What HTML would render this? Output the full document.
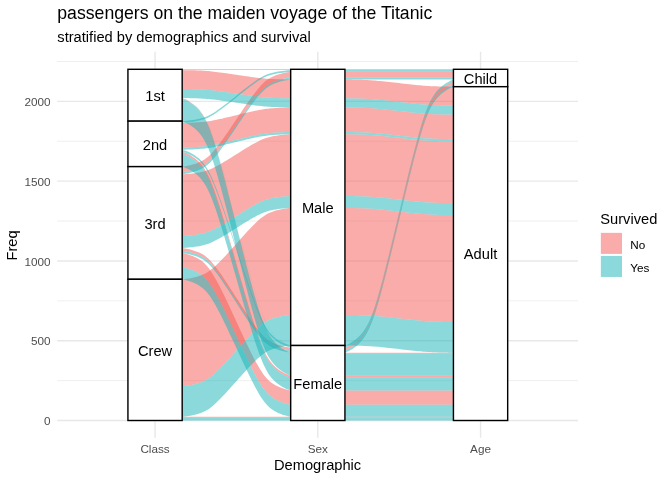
<!DOCTYPE html>
<html><head><meta charset="utf-8"><title>Titanic alluvial</title><style>html,body{margin:0;padding:0;background:#fff}body{width:672px;height:480px;overflow:hidden;font-family:"Liberation Sans",sans-serif}</style></head><body>
<svg width="672" height="480" viewBox="0 0 672 480" style="display:block;will-change:transform;font-family:'Liberation Sans',sans-serif">
<rect width="672" height="480" fill="#fff"/>
<line x1="57.20" x2="578.00" y1="380.61" y2="380.61" stroke="#E8E8E8" stroke-width="0.71"/>
<line x1="57.20" x2="578.00" y1="300.83" y2="300.83" stroke="#E8E8E8" stroke-width="0.71"/>
<line x1="57.20" x2="578.00" y1="221.04" y2="221.04" stroke="#E8E8E8" stroke-width="0.71"/>
<line x1="57.20" x2="578.00" y1="141.26" y2="141.26" stroke="#E8E8E8" stroke-width="0.71"/>
<line x1="57.20" x2="578.00" y1="61.48" y2="61.48" stroke="#E8E8E8" stroke-width="0.71"/>
<line x1="57.20" x2="578.00" y1="420.50" y2="420.50" stroke="#E8E8E8" stroke-width="1.42"/>
<line x1="57.20" x2="578.00" y1="340.72" y2="340.72" stroke="#E8E8E8" stroke-width="1.42"/>
<line x1="57.20" x2="578.00" y1="260.94" y2="260.94" stroke="#E8E8E8" stroke-width="1.42"/>
<line x1="57.20" x2="578.00" y1="181.15" y2="181.15" stroke="#E8E8E8" stroke-width="1.42"/>
<line x1="57.20" x2="578.00" y1="101.37" y2="101.37" stroke="#E8E8E8" stroke-width="1.42"/>
<line x1="155.05" x2="155.05" y1="51.80" y2="437.80" stroke="#E8E8E8" stroke-width="1.42"/>
<line x1="317.80" x2="317.80" y1="51.80" y2="437.80" stroke="#E8E8E8" stroke-width="1.42"/>
<line x1="480.55" x2="480.55" y1="51.80" y2="437.80" stroke="#E8E8E8" stroke-width="1.42"/>
<g fill-opacity="0.5">
<path d="M182.18,166.63L182.20,166.63L182.39,166.61L182.85,166.55L183.66,166.43L184.87,166.24L186.43,165.96L188.30,165.59L190.37,165.13L192.56,164.57L194.78,163.91L196.96,163.17L199.07,162.33L201.09,161.39L203.02,160.35L204.87,159.18L206.67,157.87L208.43,156.41L210.20,154.75L211.98,152.90L213.82,150.84L215.72,148.56L217.69,146.06L219.75,143.34L221.91,140.40L224.15,137.24L226.49,133.90L228.90,130.39L231.37,126.75L233.89,123.02L236.43,119.24L238.96,115.46L241.48,111.73L243.95,108.09L246.36,104.59L248.70,101.24L250.94,98.09L253.10,95.15L255.16,92.43L257.13,89.93L259.03,87.65L260.87,85.58L262.65,83.73L264.42,82.08L266.18,80.61L267.98,79.30L269.83,78.14L271.76,77.09L273.78,76.16L275.89,75.32L278.07,74.57L280.29,73.92L282.48,73.36L284.55,72.89L286.42,72.52L287.98,72.24L289.19,72.05L290.00,71.94L290.46,71.88L290.65,71.86L290.68,71.85L290.68,77.44L290.65,77.44L290.46,77.46L290.00,77.52L289.19,77.64L287.98,77.83L286.42,78.11L284.55,78.48L282.48,78.94L280.29,79.51L278.07,80.16L275.89,80.90L273.78,81.74L271.76,82.68L269.83,83.72L267.98,84.89L266.18,86.20L264.42,87.67L262.65,89.32L260.87,91.17L259.03,93.23L257.13,95.51L255.16,98.01L253.10,100.73L250.94,103.68L248.70,106.83L246.36,110.17L243.95,113.68L241.48,117.32L238.96,121.05L236.43,124.83L233.89,128.61L231.37,132.34L228.90,135.98L226.49,139.49L224.15,142.83L221.91,145.98L219.75,148.92L217.69,151.64L215.72,154.14L213.82,156.42L211.98,158.49L210.20,160.34L208.43,161.99L206.67,163.46L204.87,164.77L203.02,165.93L201.09,166.98L199.07,167.91L196.96,168.75L194.78,169.50L192.56,170.15L190.37,170.71L188.30,171.18L186.43,171.55L184.87,171.83L183.66,172.02L182.85,172.13L182.39,172.19L182.20,172.22L182.18,172.22Z" fill="#F35953"/>
<path d="M344.92,71.85L344.95,71.85L345.14,71.85L345.60,71.85L346.41,71.85L347.62,71.85L349.18,71.85L351.05,71.85L353.12,71.85L355.31,71.85L357.53,71.85L359.71,71.85L361.82,71.85L363.84,71.85L365.77,71.85L367.62,71.85L369.42,71.85L371.18,71.85L372.95,71.85L374.73,71.85L376.57,71.85L378.47,71.85L380.44,71.85L382.50,71.85L384.66,71.85L386.90,71.85L389.24,71.85L391.65,71.85L394.12,71.85L396.64,71.85L399.18,71.85L401.71,71.85L404.23,71.85L406.70,71.85L409.11,71.85L411.45,71.85L413.69,71.85L415.85,71.85L417.91,71.85L419.88,71.85L421.78,71.85L423.62,71.85L425.40,71.85L427.17,71.85L428.93,71.85L430.73,71.85L432.58,71.85L434.51,71.85L436.53,71.85L438.64,71.85L440.82,71.85L443.04,71.85L445.23,71.85L447.30,71.85L449.17,71.85L450.73,71.85L451.94,71.85L452.75,71.85L453.21,71.85L453.40,71.85L453.43,71.85L453.43,77.44L453.40,77.44L453.21,77.44L452.75,77.44L451.94,77.44L450.73,77.44L449.17,77.44L447.30,77.44L445.23,77.44L443.04,77.44L440.82,77.44L438.64,77.44L436.53,77.44L434.51,77.44L432.58,77.44L430.73,77.44L428.93,77.44L427.17,77.44L425.40,77.44L423.62,77.44L421.78,77.44L419.88,77.44L417.91,77.44L415.85,77.44L413.69,77.44L411.45,77.44L409.11,77.44L406.70,77.44L404.23,77.44L401.71,77.44L399.18,77.44L396.64,77.44L394.12,77.44L391.65,77.44L389.24,77.44L386.90,77.44L384.66,77.44L382.50,77.44L380.44,77.44L378.47,77.44L376.57,77.44L374.73,77.44L372.95,77.44L371.18,77.44L369.42,77.44L367.62,77.44L365.77,77.44L363.84,77.44L361.82,77.44L359.71,77.44L357.53,77.44L355.31,77.44L353.12,77.44L351.05,77.44L349.18,77.44L347.62,77.44L346.41,77.44L345.60,77.44L345.14,77.44L344.95,77.44L344.92,77.44Z" fill="#F35953"/>
<path d="M182.18,248.01L182.20,248.01L182.39,248.04L182.85,248.10L183.66,248.22L184.87,248.42L186.43,248.72L188.30,249.11L190.37,249.60L192.56,250.19L194.78,250.88L196.96,251.66L199.07,252.54L201.09,253.52L203.02,254.62L204.87,255.85L206.67,257.23L208.43,258.77L210.20,260.51L211.98,262.46L213.82,264.63L215.72,267.03L217.69,269.66L219.75,272.52L221.91,275.62L224.15,278.94L226.49,282.45L228.90,286.14L231.37,289.97L233.89,293.90L236.43,297.88L238.96,301.85L241.48,305.78L243.95,309.61L246.36,313.30L248.70,316.81L250.94,320.13L253.10,323.23L255.16,326.09L257.13,328.72L259.03,331.12L260.87,333.29L262.65,335.24L264.42,336.98L266.18,338.52L267.98,339.90L269.83,341.13L271.76,342.23L273.78,343.21L275.89,344.09L278.07,344.88L280.29,345.56L282.48,346.15L284.55,346.64L286.42,347.03L287.98,347.33L289.19,347.53L290.00,347.65L290.46,347.71L290.65,347.74L290.68,347.74L290.68,350.45L290.65,350.45L290.46,350.43L290.00,350.36L289.19,350.24L287.98,350.04L286.42,349.75L284.55,349.36L282.48,348.87L280.29,348.28L278.07,347.59L275.89,346.80L273.78,345.92L271.76,344.94L269.83,343.84L267.98,342.61L266.18,341.23L264.42,339.69L262.65,337.95L260.87,336.00L259.03,333.83L257.13,331.43L255.16,328.80L253.10,325.94L250.94,322.84L248.70,319.53L246.36,316.01L243.95,312.32L241.48,308.49L238.96,304.56L236.43,300.59L233.89,296.61L231.37,292.69L228.90,288.86L226.49,285.17L224.15,281.65L221.91,278.33L219.75,275.24L217.69,272.37L215.72,269.74L213.82,267.35L211.98,265.17L210.20,263.22L208.43,261.49L206.67,259.94L204.87,258.56L203.02,257.34L201.09,256.24L199.07,255.25L196.96,254.37L194.78,253.59L192.56,252.90L190.37,252.31L188.30,251.82L186.43,251.43L184.87,251.14L183.66,250.93L182.85,250.81L182.39,250.75L182.20,250.73L182.18,250.72Z" fill="#F35953"/>
<path d="M344.92,347.74L344.95,347.73L345.14,347.67L345.60,347.50L346.41,347.18L347.62,346.64L349.18,345.86L351.05,344.82L353.12,343.51L355.31,341.93L357.53,340.10L359.71,338.01L361.82,335.66L363.84,333.03L365.77,330.10L367.62,326.83L369.42,323.15L371.18,319.03L372.95,314.40L374.73,309.20L376.57,303.41L378.47,297.01L380.44,290.00L382.50,282.36L384.66,274.10L386.90,265.26L389.24,255.88L391.65,246.03L394.12,235.82L396.64,225.35L399.18,214.74L401.71,204.14L404.23,193.67L406.70,183.45L409.11,173.61L411.45,164.23L413.69,155.38L415.85,147.12L417.91,139.49L419.88,132.47L421.78,126.08L423.62,120.28L425.40,115.08L427.17,110.45L428.93,106.33L430.73,102.66L432.58,99.38L434.51,96.45L436.53,93.82L438.64,91.47L440.82,89.38L443.04,87.55L445.23,85.98L447.30,84.66L449.17,83.62L450.73,82.84L451.94,82.31L452.75,81.98L453.21,81.81L453.40,81.75L453.43,81.75L453.43,84.46L453.40,84.47L453.21,84.53L452.75,84.69L451.94,85.02L450.73,85.56L449.17,86.34L447.30,87.38L445.23,88.69L443.04,90.26L440.82,92.10L438.64,94.19L436.53,96.54L434.51,99.16L432.58,102.10L430.73,105.37L428.93,109.04L427.17,113.16L425.40,117.80L423.62,122.99L421.78,128.79L419.88,135.19L417.91,142.20L415.85,149.84L413.69,158.09L411.45,166.94L409.11,176.32L406.70,186.17L404.23,196.38L401.71,206.85L399.18,217.45L396.64,228.06L394.12,238.53L391.65,248.74L389.24,258.59L386.90,267.97L384.66,276.82L382.50,285.07L380.44,292.71L378.47,299.72L376.57,306.12L374.73,311.91L372.95,317.11L371.18,321.75L369.42,325.87L367.62,329.54L365.77,332.81L363.84,335.75L361.82,338.37L359.71,340.72L357.53,342.81L355.31,344.65L353.12,346.22L351.05,347.53L349.18,348.57L347.62,349.35L346.41,349.89L345.60,350.22L345.14,350.38L344.95,350.44L344.92,350.45Z" fill="#F35953"/>
<path d="M182.18,70.10L182.20,70.10L182.39,70.10L182.85,70.11L183.66,70.12L184.87,70.14L186.43,70.16L188.30,70.20L190.37,70.25L192.56,70.30L194.78,70.37L196.96,70.44L199.07,70.52L201.09,70.62L203.02,70.72L204.87,70.84L206.67,70.97L208.43,71.11L210.20,71.28L211.98,71.46L213.82,71.67L215.72,71.89L217.69,72.14L219.75,72.41L221.91,72.70L224.15,73.02L226.49,73.35L228.90,73.70L231.37,74.06L233.89,74.43L236.43,74.80L238.96,75.18L241.48,75.55L243.95,75.91L246.36,76.26L248.70,76.59L250.94,76.91L253.10,77.20L255.16,77.47L257.13,77.72L259.03,77.94L260.87,78.15L262.65,78.33L264.42,78.50L266.18,78.64L267.98,78.77L269.83,78.89L271.76,78.99L273.78,79.08L275.89,79.17L278.07,79.24L280.29,79.31L282.48,79.36L284.55,79.41L286.42,79.45L287.98,79.47L289.19,79.49L290.00,79.50L290.46,79.51L290.65,79.51L290.68,79.51L290.68,98.34L290.65,98.34L290.46,98.34L290.00,98.33L289.19,98.32L287.98,98.30L286.42,98.27L284.55,98.24L282.48,98.19L280.29,98.13L278.07,98.07L275.89,98.00L273.78,97.91L271.76,97.82L269.83,97.72L267.98,97.60L266.18,97.47L264.42,97.32L262.65,97.16L260.87,96.98L259.03,96.77L257.13,96.54L255.16,96.30L253.10,96.03L250.94,95.73L248.70,95.42L246.36,95.09L243.95,94.74L241.48,94.38L238.96,94.01L236.43,93.63L233.89,93.26L231.37,92.89L228.90,92.53L226.49,92.18L224.15,91.85L221.91,91.53L219.75,91.24L217.69,90.97L215.72,90.72L213.82,90.50L211.98,90.29L210.20,90.11L208.43,89.94L206.67,89.80L204.87,89.67L203.02,89.55L201.09,89.45L199.07,89.35L196.96,89.27L194.78,89.20L192.56,89.13L190.37,89.08L188.30,89.03L186.43,88.99L184.87,88.96L183.66,88.95L182.85,88.93L182.39,88.93L182.20,88.93L182.18,88.93Z" fill="#F35953"/>
<path d="M344.92,79.51L344.95,79.51L345.14,79.51L345.60,79.52L346.41,79.53L347.62,79.54L349.18,79.56L351.05,79.59L353.12,79.63L355.31,79.67L357.53,79.72L359.71,79.77L361.82,79.84L363.84,79.91L365.77,79.99L367.62,80.08L369.42,80.18L371.18,80.29L372.95,80.41L374.73,80.55L376.57,80.71L378.47,80.88L380.44,81.07L382.50,81.28L384.66,81.50L386.90,81.74L389.24,81.99L391.65,82.26L394.12,82.53L396.64,82.82L399.18,83.10L401.71,83.39L404.23,83.67L406.70,83.95L409.11,84.21L411.45,84.47L413.69,84.70L415.85,84.93L417.91,85.13L419.88,85.32L421.78,85.50L423.62,85.65L425.40,85.79L427.17,85.92L428.93,86.03L430.73,86.13L432.58,86.22L434.51,86.30L436.53,86.37L438.64,86.43L440.82,86.49L443.04,86.54L445.23,86.58L447.30,86.61L449.17,86.64L450.73,86.66L451.94,86.68L452.75,86.69L453.21,86.69L453.40,86.69L453.43,86.69L453.43,105.52L453.40,105.52L453.21,105.52L452.75,105.51L451.94,105.51L450.73,105.49L449.17,105.47L447.30,105.44L445.23,105.41L443.04,105.36L440.82,105.31L438.64,105.26L436.53,105.19L434.51,105.12L432.58,105.04L430.73,104.96L428.93,104.86L427.17,104.75L425.40,104.62L423.62,104.48L421.78,104.32L419.88,104.15L417.91,103.96L415.85,103.76L413.69,103.53L411.45,103.29L409.11,103.04L406.70,102.78L404.23,102.50L401.71,102.22L399.18,101.93L396.64,101.64L394.12,101.36L391.65,101.09L389.24,100.82L386.90,100.57L384.66,100.33L382.50,100.11L380.44,99.90L378.47,99.71L376.57,99.54L374.73,99.38L372.95,99.24L371.18,99.12L369.42,99.00L367.62,98.90L365.77,98.82L363.84,98.74L361.82,98.67L359.71,98.60L357.53,98.55L355.31,98.50L353.12,98.45L351.05,98.42L349.18,98.39L347.62,98.37L346.41,98.36L345.60,98.35L345.14,98.34L344.95,98.34L344.92,98.34Z" fill="#F35953"/>
<path d="M182.18,122.91L182.20,122.91L182.39,122.91L182.85,122.90L183.66,122.88L184.87,122.85L186.43,122.80L188.30,122.74L190.37,122.67L192.56,122.58L194.78,122.47L196.96,122.35L199.07,122.21L201.09,122.06L203.02,121.89L204.87,121.70L206.67,121.48L208.43,121.24L210.20,120.97L211.98,120.67L213.82,120.33L215.72,119.96L217.69,119.55L219.75,119.11L221.91,118.63L224.15,118.11L226.49,117.57L228.90,116.99L231.37,116.40L233.89,115.79L236.43,115.17L238.96,114.56L241.48,113.95L243.95,113.35L246.36,112.78L248.70,112.23L250.94,111.72L253.10,111.24L255.16,110.80L257.13,110.39L259.03,110.02L260.87,109.68L262.65,109.38L264.42,109.11L266.18,108.87L267.98,108.65L269.83,108.46L271.76,108.29L273.78,108.14L275.89,108.00L278.07,107.88L280.29,107.77L282.48,107.68L284.55,107.61L286.42,107.54L287.98,107.50L289.19,107.47L290.00,107.45L290.46,107.44L290.65,107.44L290.68,107.44L290.68,132.01L290.65,132.01L290.46,132.01L290.00,132.02L289.19,132.04L287.98,132.07L286.42,132.12L284.55,132.18L282.48,132.25L280.29,132.35L278.07,132.45L275.89,132.57L273.78,132.71L271.76,132.86L269.83,133.03L267.98,133.23L266.18,133.44L264.42,133.68L262.65,133.95L260.87,134.25L259.03,134.59L257.13,134.96L255.16,135.37L253.10,135.81L250.94,136.29L248.70,136.81L246.36,137.35L243.95,137.93L241.48,138.52L238.96,139.13L236.43,139.75L233.89,140.36L231.37,140.97L228.90,141.57L226.49,142.14L224.15,142.69L221.91,143.20L219.75,143.68L217.69,144.13L215.72,144.53L213.82,144.91L211.98,145.24L210.20,145.55L208.43,145.82L206.67,146.06L204.87,146.27L203.02,146.46L201.09,146.63L199.07,146.78L196.96,146.92L194.78,147.04L192.56,147.15L190.37,147.24L188.30,147.32L186.43,147.38L184.87,147.42L183.66,147.45L182.85,147.47L182.39,147.48L182.20,147.49L182.18,147.49Z" fill="#F35953"/>
<path d="M344.92,107.44L344.95,107.44L345.14,107.44L345.60,107.44L346.41,107.45L347.62,107.47L349.18,107.49L351.05,107.51L353.12,107.55L355.31,107.59L357.53,107.64L359.71,107.70L361.82,107.76L363.84,107.83L365.77,107.91L367.62,108.00L369.42,108.10L371.18,108.21L372.95,108.34L374.73,108.48L376.57,108.63L378.47,108.80L380.44,108.99L382.50,109.20L384.66,109.42L386.90,109.66L389.24,109.92L391.65,110.18L394.12,110.46L396.64,110.74L399.18,111.03L401.71,111.31L404.23,111.59L406.70,111.87L409.11,112.14L411.45,112.39L413.69,112.63L415.85,112.85L417.91,113.06L419.88,113.25L421.78,113.42L423.62,113.58L425.40,113.72L427.17,113.84L428.93,113.95L430.73,114.05L432.58,114.14L434.51,114.22L436.53,114.29L438.64,114.35L440.82,114.41L443.04,114.46L445.23,114.50L447.30,114.54L449.17,114.57L450.73,114.59L451.94,114.60L452.75,114.61L453.21,114.61L453.40,114.62L453.43,114.62L453.43,139.19L453.40,139.19L453.21,139.19L452.75,139.18L451.94,139.17L450.73,139.16L449.17,139.14L447.30,139.11L445.23,139.07L443.04,139.03L440.82,138.98L438.64,138.93L436.53,138.86L434.51,138.79L432.58,138.71L430.73,138.62L428.93,138.53L427.17,138.41L425.40,138.29L423.62,138.15L421.78,137.99L419.88,137.82L417.91,137.63L415.85,137.42L413.69,137.20L411.45,136.96L409.11,136.71L406.70,136.44L404.23,136.17L401.71,135.88L399.18,135.60L396.64,135.31L394.12,135.03L391.65,134.75L389.24,134.49L386.90,134.23L384.66,134.00L382.50,133.77L380.44,133.57L378.47,133.38L376.57,133.21L374.73,133.05L372.95,132.91L371.18,132.78L369.42,132.67L367.62,132.57L365.77,132.48L363.84,132.41L361.82,132.33L359.71,132.27L357.53,132.21L355.31,132.16L353.12,132.12L351.05,132.09L349.18,132.06L347.62,132.04L346.41,132.02L345.60,132.01L345.14,132.01L344.95,132.01L344.92,132.01Z" fill="#F35953"/>
<path d="M182.18,174.29L182.20,174.29L182.39,174.28L182.85,174.26L183.66,174.21L184.87,174.13L186.43,174.01L188.30,173.85L190.37,173.66L192.56,173.42L194.78,173.14L196.96,172.83L199.07,172.47L201.09,172.08L203.02,171.64L204.87,171.14L206.67,170.59L208.43,169.97L210.20,169.27L211.98,168.49L213.82,167.62L215.72,166.65L217.69,165.60L219.75,164.45L221.91,163.21L224.15,161.87L226.49,160.46L228.90,158.98L231.37,157.44L233.89,155.86L236.43,154.27L238.96,152.67L241.48,151.09L243.95,149.56L246.36,148.07L248.70,146.66L250.94,145.33L253.10,144.09L255.16,142.94L257.13,141.88L259.03,140.92L260.87,140.04L262.65,139.26L264.42,138.56L266.18,137.94L267.98,137.39L269.83,136.90L271.76,136.46L273.78,136.06L275.89,135.71L278.07,135.39L280.29,135.12L282.48,134.88L284.55,134.68L286.42,134.52L287.98,134.41L289.19,134.33L290.00,134.28L290.46,134.25L290.65,134.24L290.68,134.24L290.68,195.99L290.65,195.99L290.46,196.00L290.00,196.03L289.19,196.08L287.98,196.16L286.42,196.28L284.55,196.43L282.48,196.63L280.29,196.87L278.07,197.14L275.89,197.46L273.78,197.81L271.76,198.21L269.83,198.65L267.98,199.14L266.18,199.70L264.42,200.32L262.65,201.01L260.87,201.80L259.03,202.67L257.13,203.63L255.16,204.69L253.10,205.84L250.94,207.08L248.70,208.41L246.36,209.83L243.95,211.31L241.48,212.85L238.96,214.42L236.43,216.02L233.89,217.62L231.37,219.19L228.90,220.73L226.49,222.21L224.15,223.63L221.91,224.96L219.75,226.20L217.69,227.35L215.72,228.41L213.82,229.37L211.98,230.24L210.20,231.02L208.43,231.72L206.67,232.34L204.87,232.90L203.02,233.39L201.09,233.83L199.07,234.23L196.96,234.58L194.78,234.89L192.56,235.17L190.37,235.41L188.30,235.60L186.43,235.76L184.87,235.88L183.66,235.96L182.85,236.01L182.39,236.03L182.20,236.04L182.18,236.04Z" fill="#F35953"/>
<path d="M344.92,134.24L344.95,134.24L345.14,134.24L345.60,134.25L346.41,134.26L347.62,134.27L349.18,134.29L351.05,134.32L353.12,134.36L355.31,134.40L357.53,134.45L359.71,134.50L361.82,134.57L363.84,134.64L365.77,134.72L367.62,134.81L369.42,134.91L371.18,135.02L372.95,135.14L374.73,135.28L376.57,135.44L378.47,135.61L380.44,135.80L382.50,136.01L384.66,136.23L386.90,136.47L389.24,136.72L391.65,136.99L394.12,137.26L396.64,137.55L399.18,137.83L401.71,138.12L404.23,138.40L406.70,138.68L409.11,138.94L411.45,139.20L413.69,139.43L415.85,139.66L417.91,139.86L419.88,140.05L421.78,140.23L423.62,140.38L425.40,140.52L427.17,140.65L428.93,140.76L430.73,140.86L432.58,140.95L434.51,141.03L436.53,141.10L438.64,141.16L440.82,141.22L443.04,141.27L445.23,141.31L447.30,141.34L449.17,141.37L450.73,141.39L451.94,141.41L452.75,141.42L453.21,141.42L453.40,141.42L453.43,141.42L453.43,203.17L453.40,203.17L453.21,203.17L452.75,203.17L451.94,203.16L450.73,203.14L449.17,203.12L447.30,203.10L445.23,203.06L443.04,203.02L440.82,202.97L438.64,202.91L436.53,202.85L434.51,202.78L432.58,202.70L430.73,202.61L428.93,202.51L427.17,202.40L425.40,202.27L423.62,202.13L421.78,201.98L419.88,201.80L417.91,201.62L415.85,201.41L413.69,201.19L411.45,200.95L409.11,200.69L406.70,200.43L404.23,200.15L401.71,199.87L399.18,199.58L396.64,199.30L394.12,199.01L391.65,198.74L389.24,198.47L386.90,198.22L384.66,197.98L382.50,197.76L380.44,197.55L378.47,197.36L376.57,197.19L374.73,197.03L372.95,196.89L371.18,196.77L369.42,196.66L367.62,196.56L365.77,196.47L363.84,196.39L361.82,196.32L359.71,196.26L357.53,196.20L355.31,196.15L353.12,196.11L351.05,196.07L349.18,196.04L347.62,196.02L346.41,196.01L345.60,196.00L345.14,196.00L344.95,195.99L344.92,195.99Z" fill="#F35953"/>
<path d="M182.18,279.29L182.20,279.28L182.39,279.27L182.85,279.22L183.66,279.13L184.87,278.99L186.43,278.78L188.30,278.50L190.37,278.15L192.56,277.73L194.78,277.24L196.96,276.68L199.07,276.05L201.09,275.34L203.02,274.56L204.87,273.68L206.67,272.69L208.43,271.59L210.20,270.35L211.98,268.95L213.82,267.40L215.72,265.68L217.69,263.80L219.75,261.75L221.91,259.54L224.15,257.17L226.49,254.65L228.90,252.01L231.37,249.27L233.89,246.47L236.43,243.62L238.96,240.78L241.48,237.97L243.95,235.23L246.36,232.59L248.70,230.08L250.94,227.71L253.10,225.49L255.16,223.44L257.13,221.56L259.03,219.85L260.87,218.29L262.65,216.90L264.42,215.66L266.18,214.55L267.98,213.57L269.83,212.69L271.76,211.90L273.78,211.20L275.89,210.57L278.07,210.01L280.29,209.52L282.48,209.09L284.55,208.74L286.42,208.46L287.98,208.26L289.19,208.11L290.00,208.02L290.46,207.98L290.65,207.96L290.68,207.96L290.68,314.87L290.65,314.87L290.46,314.89L290.00,314.93L289.19,315.02L287.98,315.16L286.42,315.37L284.55,315.65L282.48,316.00L280.29,316.43L278.07,316.92L275.89,317.48L273.78,318.11L271.76,318.81L269.83,319.60L267.98,320.48L266.18,321.46L264.42,322.57L262.65,323.81L260.87,325.20L259.03,326.76L257.13,328.47L255.16,330.35L253.10,332.40L250.94,334.61L248.70,336.99L246.36,339.50L243.95,342.14L241.48,344.88L238.96,347.69L236.43,350.53L233.89,353.37L231.37,356.18L228.90,358.92L226.49,361.56L224.15,364.08L221.91,366.45L219.75,368.66L217.69,370.71L215.72,372.59L213.82,374.31L211.98,375.86L210.20,377.25L208.43,378.50L206.67,379.60L204.87,380.59L203.02,381.46L201.09,382.25L199.07,382.96L196.96,383.59L194.78,384.15L192.56,384.64L190.37,385.06L188.30,385.41L186.43,385.69L184.87,385.90L183.66,386.04L182.85,386.13L182.39,386.18L182.20,386.19L182.18,386.19Z" fill="#F35953"/>
<path d="M344.92,207.96L344.95,207.96L345.14,207.96L345.60,207.97L346.41,207.98L347.62,207.99L349.18,208.01L351.05,208.04L353.12,208.07L355.31,208.12L357.53,208.17L359.71,208.22L361.82,208.29L363.84,208.36L365.77,208.44L367.62,208.53L369.42,208.62L371.18,208.74L372.95,208.86L374.73,209.00L376.57,209.16L378.47,209.33L380.44,209.52L382.50,209.73L384.66,209.95L386.90,210.19L389.24,210.44L391.65,210.71L394.12,210.98L396.64,211.26L399.18,211.55L401.71,211.84L404.23,212.12L406.70,212.40L409.11,212.66L411.45,212.91L413.69,213.15L415.85,213.38L417.91,213.58L419.88,213.77L421.78,213.94L423.62,214.10L425.40,214.24L427.17,214.37L428.93,214.48L430.73,214.58L432.58,214.67L434.51,214.74L436.53,214.82L438.64,214.88L440.82,214.93L443.04,214.98L445.23,215.03L447.30,215.06L449.17,215.09L450.73,215.11L451.94,215.13L452.75,215.13L453.21,215.14L453.40,215.14L453.43,215.14L453.43,322.05L453.40,322.05L453.21,322.05L452.75,322.04L451.94,322.03L450.73,322.02L449.17,322.00L447.30,321.97L445.23,321.93L443.04,321.89L440.82,321.84L438.64,321.79L436.53,321.72L434.51,321.65L432.58,321.57L430.73,321.48L428.93,321.39L427.17,321.27L425.40,321.15L423.62,321.01L421.78,320.85L419.88,320.68L417.91,320.49L415.85,320.28L413.69,320.06L411.45,319.82L409.11,319.57L406.70,319.30L404.23,319.03L401.71,318.75L399.18,318.46L396.64,318.17L394.12,317.89L391.65,317.61L389.24,317.35L386.90,317.10L384.66,316.86L382.50,316.63L380.44,316.43L378.47,316.24L376.57,316.07L374.73,315.91L372.95,315.77L371.18,315.64L369.42,315.53L367.62,315.43L365.77,315.34L363.84,315.27L361.82,315.19L359.71,315.13L357.53,315.07L355.31,315.03L353.12,314.98L351.05,314.95L349.18,314.92L347.62,314.90L346.41,314.88L345.60,314.87L345.14,314.87L344.95,314.87L344.92,314.87Z" fill="#F35953"/>
<path d="M182.18,98.18L182.20,98.19L182.39,98.25L182.85,98.41L183.66,98.72L184.87,99.23L186.43,99.98L188.30,100.97L190.37,102.23L192.56,103.73L194.78,105.49L196.96,107.49L199.07,109.74L201.09,112.25L203.02,115.06L204.87,118.19L206.67,121.70L208.43,125.65L210.20,130.08L211.98,135.05L213.82,140.60L215.72,146.72L217.69,153.43L219.75,160.74L221.91,168.64L224.15,177.10L226.49,186.08L228.90,195.50L231.37,205.27L233.89,215.29L236.43,225.43L238.96,235.58L241.48,245.60L243.95,255.37L246.36,264.79L248.70,273.77L250.94,282.23L253.10,290.13L255.16,297.44L257.13,304.15L259.03,310.27L260.87,315.81L262.65,320.79L264.42,325.22L266.18,329.16L267.98,332.67L269.83,335.81L271.76,338.62L273.78,341.13L275.89,343.38L278.07,345.38L280.29,347.13L282.48,348.64L284.55,349.89L286.42,350.89L287.98,351.63L289.19,352.15L290.00,352.46L290.46,352.62L290.65,352.68L290.68,352.69L290.68,353.32L290.65,353.32L290.46,353.26L290.00,353.10L289.19,352.78L287.98,352.27L286.42,351.53L284.55,350.53L282.48,349.28L280.29,347.77L278.07,346.02L275.89,344.02L273.78,341.77L271.76,339.25L269.83,336.45L267.98,333.31L266.18,329.80L264.42,325.86L262.65,321.43L260.87,316.45L259.03,310.91L257.13,304.79L255.16,298.08L253.10,290.77L250.94,282.87L248.70,274.41L246.36,265.43L243.95,256.01L241.48,246.24L238.96,236.22L236.43,226.07L233.89,215.93L231.37,205.91L228.90,196.13L226.49,186.71L224.15,177.74L221.91,169.27L219.75,161.37L217.69,154.07L215.72,147.36L213.82,141.24L211.98,135.69L210.20,130.72L208.43,126.28L206.67,122.34L204.87,118.83L203.02,115.69L201.09,112.89L199.07,110.37L196.96,108.13L194.78,106.13L192.56,104.37L190.37,102.87L188.30,101.61L186.43,100.62L184.87,99.87L183.66,99.36L182.85,99.04L182.39,98.88L182.20,98.83L182.18,98.82Z" fill="#F35953"/>
<path d="M344.92,352.69L344.95,352.69L345.14,352.69L345.60,352.69L346.41,352.69L347.62,352.69L349.18,352.69L351.05,352.69L353.12,352.69L355.31,352.69L357.53,352.69L359.71,352.69L361.82,352.69L363.84,352.69L365.77,352.69L367.62,352.69L369.42,352.69L371.18,352.69L372.95,352.69L374.73,352.69L376.57,352.69L378.47,352.69L380.44,352.69L382.50,352.69L384.66,352.69L386.90,352.69L389.24,352.69L391.65,352.69L394.12,352.69L396.64,352.69L399.18,352.69L401.71,352.69L404.23,352.69L406.70,352.69L409.11,352.69L411.45,352.69L413.69,352.69L415.85,352.69L417.91,352.69L419.88,352.69L421.78,352.69L423.62,352.69L425.40,352.69L427.17,352.69L428.93,352.69L430.73,352.69L432.58,352.69L434.51,352.69L436.53,352.69L438.64,352.69L440.82,352.69L443.04,352.69L445.23,352.69L447.30,352.69L449.17,352.69L450.73,352.69L451.94,352.69L452.75,352.69L453.21,352.69L453.40,352.69L453.43,352.69L453.43,353.32L453.40,353.32L453.21,353.32L452.75,353.32L451.94,353.32L450.73,353.32L449.17,353.32L447.30,353.32L445.23,353.32L443.04,353.32L440.82,353.32L438.64,353.32L436.53,353.32L434.51,353.32L432.58,353.32L430.73,353.32L428.93,353.32L427.17,353.32L425.40,353.32L423.62,353.32L421.78,353.32L419.88,353.32L417.91,353.32L415.85,353.32L413.69,353.32L411.45,353.32L409.11,353.32L406.70,353.32L404.23,353.32L401.71,353.32L399.18,353.32L396.64,353.32L394.12,353.32L391.65,353.32L389.24,353.32L386.90,353.32L384.66,353.32L382.50,353.32L380.44,353.32L378.47,353.32L376.57,353.32L374.73,353.32L372.95,353.32L371.18,353.32L369.42,353.32L367.62,353.32L365.77,353.32L363.84,353.32L361.82,353.32L359.71,353.32L357.53,353.32L355.31,353.32L353.12,353.32L351.05,353.32L349.18,353.32L347.62,353.32L346.41,353.32L345.60,353.32L345.14,353.32L344.95,353.32L344.92,353.32Z" fill="#F35953"/>
<path d="M182.18,151.79L182.20,151.80L182.39,151.85L182.85,151.99L183.66,152.27L184.87,152.72L186.43,153.37L188.30,154.25L190.37,155.35L192.56,156.68L194.78,158.22L196.96,159.98L199.07,161.96L201.09,164.17L203.02,166.64L204.87,169.40L206.67,172.49L208.43,175.95L210.20,179.85L211.98,184.23L213.82,189.11L215.72,194.49L217.69,200.39L219.75,206.82L221.91,213.77L224.15,221.21L226.49,229.11L228.90,237.39L231.37,245.99L233.89,254.80L236.43,263.73L238.96,272.65L241.48,281.47L243.95,290.06L246.36,298.35L248.70,306.24L250.94,313.69L253.10,320.64L255.16,327.07L257.13,332.97L259.03,338.35L260.87,343.23L262.65,347.60L264.42,351.50L266.18,354.97L267.98,358.06L269.83,360.82L271.76,363.29L273.78,365.50L275.89,367.48L278.07,369.23L280.29,370.78L282.48,372.10L284.55,373.21L286.42,374.08L287.98,374.74L289.19,375.19L290.00,375.46L290.46,375.60L290.65,375.66L290.68,375.66L290.68,377.74L290.65,377.73L290.46,377.68L290.00,377.54L289.19,377.26L287.98,376.81L286.42,376.16L284.55,375.28L282.48,374.18L280.29,372.85L278.07,371.31L275.89,369.55L273.78,367.57L271.76,365.36L269.83,362.89L267.98,360.14L266.18,357.05L264.42,353.58L262.65,349.68L260.87,345.30L259.03,340.43L257.13,335.04L255.16,329.14L253.10,322.71L250.94,315.76L248.70,308.32L246.36,300.42L243.95,292.14L241.48,283.54L238.96,274.73L236.43,265.80L233.89,256.88L231.37,248.07L228.90,239.47L226.49,231.18L224.15,223.29L221.91,215.84L219.75,208.89L217.69,202.46L215.72,196.56L213.82,191.18L211.98,186.30L210.20,181.93L208.43,178.03L206.67,174.56L204.87,171.47L203.02,168.71L201.09,166.24L199.07,164.03L196.96,162.06L194.78,160.30L192.56,158.75L190.37,157.43L188.30,156.33L186.43,155.45L184.87,154.79L183.66,154.34L182.85,154.07L182.39,153.93L182.20,153.88L182.18,153.87Z" fill="#F35953"/>
<path d="M344.92,375.66L344.95,375.66L345.14,375.66L345.60,375.66L346.41,375.66L347.62,375.66L349.18,375.66L351.05,375.66L353.12,375.66L355.31,375.66L357.53,375.66L359.71,375.66L361.82,375.66L363.84,375.66L365.77,375.66L367.62,375.66L369.42,375.66L371.18,375.66L372.95,375.66L374.73,375.66L376.57,375.66L378.47,375.66L380.44,375.66L382.50,375.66L384.66,375.66L386.90,375.66L389.24,375.66L391.65,375.66L394.12,375.66L396.64,375.66L399.18,375.66L401.71,375.66L404.23,375.66L406.70,375.66L409.11,375.66L411.45,375.66L413.69,375.66L415.85,375.66L417.91,375.66L419.88,375.66L421.78,375.66L423.62,375.66L425.40,375.66L427.17,375.66L428.93,375.66L430.73,375.66L432.58,375.66L434.51,375.66L436.53,375.66L438.64,375.66L440.82,375.66L443.04,375.66L445.23,375.66L447.30,375.66L449.17,375.66L450.73,375.66L451.94,375.66L452.75,375.66L453.21,375.66L453.40,375.66L453.43,375.66L453.43,377.74L453.40,377.74L453.21,377.74L452.75,377.74L451.94,377.74L450.73,377.74L449.17,377.74L447.30,377.74L445.23,377.74L443.04,377.74L440.82,377.74L438.64,377.74L436.53,377.74L434.51,377.74L432.58,377.74L430.73,377.74L428.93,377.74L427.17,377.74L425.40,377.74L423.62,377.74L421.78,377.74L419.88,377.74L417.91,377.74L415.85,377.74L413.69,377.74L411.45,377.74L409.11,377.74L406.70,377.74L404.23,377.74L401.71,377.74L399.18,377.74L396.64,377.74L394.12,377.74L391.65,377.74L389.24,377.74L386.90,377.74L384.66,377.74L382.50,377.74L380.44,377.74L378.47,377.74L376.57,377.74L374.73,377.74L372.95,377.74L371.18,377.74L369.42,377.74L367.62,377.74L365.77,377.74L363.84,377.74L361.82,377.74L359.71,377.74L357.53,377.74L355.31,377.74L353.12,377.74L351.05,377.74L349.18,377.74L347.62,377.74L346.41,377.74L345.60,377.74L345.14,377.74L344.95,377.74L344.92,377.74Z" fill="#F35953"/>
<path d="M182.18,252.96L182.20,252.96L182.39,252.99L182.85,253.08L183.66,253.25L184.87,253.53L186.43,253.93L188.30,254.47L190.37,255.14L192.56,255.96L194.78,256.91L196.96,257.99L199.07,259.20L201.09,260.56L203.02,262.08L204.87,263.77L206.67,265.67L208.43,267.80L210.20,270.20L211.98,272.88L213.82,275.88L215.72,279.19L217.69,282.82L219.75,286.77L221.91,291.03L224.15,295.61L226.49,300.46L228.90,305.55L231.37,310.83L233.89,316.25L236.43,321.73L238.96,327.21L241.48,332.63L243.95,337.91L246.36,343.00L248.70,347.85L250.94,352.43L253.10,356.69L255.16,360.64L257.13,364.27L259.03,367.58L260.87,370.57L262.65,373.26L264.42,375.66L266.18,377.79L267.98,379.69L269.83,381.38L271.76,382.90L273.78,384.26L275.89,385.47L278.07,386.55L280.29,387.50L282.48,388.31L284.55,388.99L286.42,389.53L287.98,389.93L289.19,390.21L290.00,390.38L290.46,390.47L290.65,390.50L290.68,390.50L290.68,404.70L290.65,404.70L290.46,404.67L290.00,404.58L289.19,404.41L287.98,404.14L286.42,403.73L284.55,403.19L282.48,402.52L280.29,401.70L278.07,400.75L275.89,399.67L273.78,398.46L271.76,397.10L269.83,395.58L267.98,393.89L266.18,391.99L264.42,389.86L262.65,387.46L260.87,384.78L259.03,381.78L257.13,378.47L255.16,374.85L253.10,370.90L250.94,366.63L248.70,362.05L246.36,357.20L243.95,352.11L241.48,346.83L238.96,341.41L236.43,335.93L233.89,330.45L231.37,325.03L228.90,319.75L226.49,314.66L224.15,309.81L221.91,305.24L219.75,300.97L217.69,297.02L215.72,293.39L213.82,290.08L211.98,287.09L210.20,284.40L208.43,282.00L206.67,279.87L204.87,277.97L203.02,276.28L201.09,274.76L199.07,273.40L196.96,272.19L194.78,271.11L192.56,270.16L190.37,269.35L188.30,268.67L186.43,268.13L184.87,267.73L183.66,267.45L182.85,267.28L182.39,267.19L182.20,267.16L182.18,267.16Z" fill="#F35953"/>
<path d="M344.92,390.50L344.95,390.50L345.14,390.50L345.60,390.50L346.41,390.50L347.62,390.50L349.18,390.50L351.05,390.50L353.12,390.50L355.31,390.50L357.53,390.50L359.71,390.50L361.82,390.50L363.84,390.50L365.77,390.50L367.62,390.50L369.42,390.50L371.18,390.50L372.95,390.50L374.73,390.50L376.57,390.50L378.47,390.50L380.44,390.50L382.50,390.50L384.66,390.50L386.90,390.50L389.24,390.50L391.65,390.50L394.12,390.50L396.64,390.50L399.18,390.50L401.71,390.50L404.23,390.50L406.70,390.50L409.11,390.50L411.45,390.50L413.69,390.50L415.85,390.50L417.91,390.50L419.88,390.50L421.78,390.50L423.62,390.50L425.40,390.50L427.17,390.50L428.93,390.50L430.73,390.50L432.58,390.50L434.51,390.50L436.53,390.50L438.64,390.50L440.82,390.50L443.04,390.50L445.23,390.50L447.30,390.50L449.17,390.50L450.73,390.50L451.94,390.50L452.75,390.50L453.21,390.50L453.40,390.50L453.43,390.50L453.43,404.70L453.40,404.70L453.21,404.70L452.75,404.70L451.94,404.70L450.73,404.70L449.17,404.70L447.30,404.70L445.23,404.70L443.04,404.70L440.82,404.70L438.64,404.70L436.53,404.70L434.51,404.70L432.58,404.70L430.73,404.70L428.93,404.70L427.17,404.70L425.40,404.70L423.62,404.70L421.78,404.70L419.88,404.70L417.91,404.70L415.85,404.70L413.69,404.70L411.45,404.70L409.11,404.70L406.70,404.70L404.23,404.70L401.71,404.70L399.18,404.70L396.64,404.70L394.12,404.70L391.65,404.70L389.24,404.70L386.90,404.70L384.66,404.70L382.50,404.70L380.44,404.70L378.47,404.70L376.57,404.70L374.73,404.70L372.95,404.70L371.18,404.70L369.42,404.70L367.62,404.70L365.77,404.70L363.84,404.70L361.82,404.70L359.71,404.70L357.53,404.70L355.31,404.70L353.12,404.70L351.05,404.70L349.18,404.70L347.62,404.70L346.41,404.70L345.60,404.70L345.14,404.70L344.95,404.70L344.92,404.70Z" fill="#F35953"/>
<path d="M182.18,416.83L182.20,416.83L182.39,416.83L182.85,416.83L183.66,416.83L184.87,416.83L186.43,416.83L188.30,416.83L190.37,416.83L192.56,416.83L194.78,416.83L196.96,416.83L199.07,416.83L201.09,416.83L203.02,416.83L204.87,416.83L206.67,416.83L208.43,416.83L210.20,416.83L211.98,416.83L213.82,416.83L215.72,416.83L217.69,416.83L219.75,416.83L221.91,416.83L224.15,416.83L226.49,416.83L228.90,416.83L231.37,416.83L233.89,416.83L236.43,416.83L238.96,416.83L241.48,416.83L243.95,416.83L246.36,416.83L248.70,416.83L250.94,416.83L253.10,416.83L255.16,416.83L257.13,416.83L259.03,416.83L260.87,416.83L262.65,416.83L264.42,416.83L266.18,416.83L267.98,416.83L269.83,416.83L271.76,416.83L273.78,416.83L275.89,416.83L278.07,416.83L280.29,416.83L282.48,416.83L284.55,416.83L286.42,416.83L287.98,416.83L289.19,416.83L290.00,416.83L290.46,416.83L290.65,416.83L290.68,416.83L290.68,417.31L290.65,417.31L290.46,417.31L290.00,417.31L289.19,417.31L287.98,417.31L286.42,417.31L284.55,417.31L282.48,417.31L280.29,417.31L278.07,417.31L275.89,417.31L273.78,417.31L271.76,417.31L269.83,417.31L267.98,417.31L266.18,417.31L264.42,417.31L262.65,417.31L260.87,417.31L259.03,417.31L257.13,417.31L255.16,417.31L253.10,417.31L250.94,417.31L248.70,417.31L246.36,417.31L243.95,417.31L241.48,417.31L238.96,417.31L236.43,417.31L233.89,417.31L231.37,417.31L228.90,417.31L226.49,417.31L224.15,417.31L221.91,417.31L219.75,417.31L217.69,417.31L215.72,417.31L213.82,417.31L211.98,417.31L210.20,417.31L208.43,417.31L206.67,417.31L204.87,417.31L203.02,417.31L201.09,417.31L199.07,417.31L196.96,417.31L194.78,417.31L192.56,417.31L190.37,417.31L188.30,417.31L186.43,417.31L184.87,417.31L183.66,417.31L182.85,417.31L182.39,417.31L182.20,417.31L182.18,417.31Z" fill="#F35953"/>
<path d="M344.92,416.83L344.95,416.83L345.14,416.83L345.60,416.83L346.41,416.83L347.62,416.83L349.18,416.83L351.05,416.83L353.12,416.83L355.31,416.83L357.53,416.83L359.71,416.83L361.82,416.83L363.84,416.83L365.77,416.83L367.62,416.83L369.42,416.83L371.18,416.83L372.95,416.83L374.73,416.83L376.57,416.83L378.47,416.83L380.44,416.83L382.50,416.83L384.66,416.83L386.90,416.83L389.24,416.83L391.65,416.83L394.12,416.83L396.64,416.83L399.18,416.83L401.71,416.83L404.23,416.83L406.70,416.83L409.11,416.83L411.45,416.83L413.69,416.83L415.85,416.83L417.91,416.83L419.88,416.83L421.78,416.83L423.62,416.83L425.40,416.83L427.17,416.83L428.93,416.83L430.73,416.83L432.58,416.83L434.51,416.83L436.53,416.83L438.64,416.83L440.82,416.83L443.04,416.83L445.23,416.83L447.30,416.83L449.17,416.83L450.73,416.83L451.94,416.83L452.75,416.83L453.21,416.83L453.40,416.83L453.43,416.83L453.43,417.31L453.40,417.31L453.21,417.31L452.75,417.31L451.94,417.31L450.73,417.31L449.17,417.31L447.30,417.31L445.23,417.31L443.04,417.31L440.82,417.31L438.64,417.31L436.53,417.31L434.51,417.31L432.58,417.31L430.73,417.31L428.93,417.31L427.17,417.31L425.40,417.31L423.62,417.31L421.78,417.31L419.88,417.31L417.91,417.31L415.85,417.31L413.69,417.31L411.45,417.31L409.11,417.31L406.70,417.31L404.23,417.31L401.71,417.31L399.18,417.31L396.64,417.31L394.12,417.31L391.65,417.31L389.24,417.31L386.90,417.31L384.66,417.31L382.50,417.31L380.44,417.31L378.47,417.31L376.57,417.31L374.73,417.31L372.95,417.31L371.18,417.31L369.42,417.31L367.62,417.31L365.77,417.31L363.84,417.31L361.82,417.31L359.71,417.31L357.53,417.31L355.31,417.31L353.12,417.31L351.05,417.31L349.18,417.31L347.62,417.31L346.41,417.31L345.60,417.31L345.14,417.31L344.95,417.31L344.92,417.31Z" fill="#F35953"/>
<path d="M182.18,69.30L182.20,69.30L182.39,69.30L182.85,69.30L183.66,69.30L184.87,69.30L186.43,69.30L188.30,69.30L190.37,69.30L192.56,69.30L194.78,69.30L196.96,69.30L199.07,69.30L201.09,69.30L203.02,69.30L204.87,69.30L206.67,69.30L208.43,69.30L210.20,69.30L211.98,69.30L213.82,69.30L215.72,69.30L217.69,69.30L219.75,69.30L221.91,69.30L224.15,69.30L226.49,69.30L228.90,69.30L231.37,69.30L233.89,69.30L236.43,69.30L238.96,69.30L241.48,69.30L243.95,69.30L246.36,69.30L248.70,69.30L250.94,69.30L253.10,69.30L255.16,69.30L257.13,69.30L259.03,69.30L260.87,69.30L262.65,69.30L264.42,69.30L266.18,69.30L267.98,69.30L269.83,69.30L271.76,69.30L273.78,69.30L275.89,69.30L278.07,69.30L280.29,69.30L282.48,69.30L284.55,69.30L286.42,69.30L287.98,69.30L289.19,69.30L290.00,69.30L290.46,69.30L290.65,69.30L290.68,69.30L290.68,70.10L290.65,70.10L290.46,70.10L290.00,70.10L289.19,70.10L287.98,70.10L286.42,70.10L284.55,70.10L282.48,70.10L280.29,70.10L278.07,70.10L275.89,70.10L273.78,70.10L271.76,70.10L269.83,70.10L267.98,70.10L266.18,70.10L264.42,70.10L262.65,70.10L260.87,70.10L259.03,70.10L257.13,70.10L255.16,70.10L253.10,70.10L250.94,70.10L248.70,70.10L246.36,70.10L243.95,70.10L241.48,70.10L238.96,70.10L236.43,70.10L233.89,70.10L231.37,70.10L228.90,70.10L226.49,70.10L224.15,70.10L221.91,70.10L219.75,70.10L217.69,70.10L215.72,70.10L213.82,70.10L211.98,70.10L210.20,70.10L208.43,70.10L206.67,70.10L204.87,70.10L203.02,70.10L201.09,70.10L199.07,70.10L196.96,70.10L194.78,70.10L192.56,70.10L190.37,70.10L188.30,70.10L186.43,70.10L184.87,70.10L183.66,70.10L182.85,70.10L182.39,70.10L182.20,70.10L182.18,70.10Z" fill="#17B3B7"/>
<path d="M344.92,69.30L344.95,69.30L345.14,69.30L345.60,69.30L346.41,69.30L347.62,69.30L349.18,69.30L351.05,69.30L353.12,69.30L355.31,69.30L357.53,69.30L359.71,69.30L361.82,69.30L363.84,69.30L365.77,69.30L367.62,69.30L369.42,69.30L371.18,69.30L372.95,69.30L374.73,69.30L376.57,69.30L378.47,69.30L380.44,69.30L382.50,69.30L384.66,69.30L386.90,69.30L389.24,69.30L391.65,69.30L394.12,69.30L396.64,69.30L399.18,69.30L401.71,69.30L404.23,69.30L406.70,69.30L409.11,69.30L411.45,69.30L413.69,69.30L415.85,69.30L417.91,69.30L419.88,69.30L421.78,69.30L423.62,69.30L425.40,69.30L427.17,69.30L428.93,69.30L430.73,69.30L432.58,69.30L434.51,69.30L436.53,69.30L438.64,69.30L440.82,69.30L443.04,69.30L445.23,69.30L447.30,69.30L449.17,69.30L450.73,69.30L451.94,69.30L452.75,69.30L453.21,69.30L453.40,69.30L453.43,69.30L453.43,70.10L453.40,70.10L453.21,70.10L452.75,70.10L451.94,70.10L450.73,70.10L449.17,70.10L447.30,70.10L445.23,70.10L443.04,70.10L440.82,70.10L438.64,70.10L436.53,70.10L434.51,70.10L432.58,70.10L430.73,70.10L428.93,70.10L427.17,70.10L425.40,70.10L423.62,70.10L421.78,70.10L419.88,70.10L417.91,70.10L415.85,70.10L413.69,70.10L411.45,70.10L409.11,70.10L406.70,70.10L404.23,70.10L401.71,70.10L399.18,70.10L396.64,70.10L394.12,70.10L391.65,70.10L389.24,70.10L386.90,70.10L384.66,70.10L382.50,70.10L380.44,70.10L378.47,70.10L376.57,70.10L374.73,70.10L372.95,70.10L371.18,70.10L369.42,70.10L367.62,70.10L365.77,70.10L363.84,70.10L361.82,70.10L359.71,70.10L357.53,70.10L355.31,70.10L353.12,70.10L351.05,70.10L349.18,70.10L347.62,70.10L346.41,70.10L345.60,70.10L345.14,70.10L344.95,70.10L344.92,70.10Z" fill="#17B3B7"/>
<path d="M182.18,121.16L182.20,121.16L182.39,121.14L182.85,121.11L183.66,121.05L184.87,120.95L186.43,120.80L188.30,120.60L190.37,120.35L192.56,120.04L194.78,119.69L196.96,119.29L199.07,118.84L201.09,118.34L203.02,117.77L204.87,117.14L206.67,116.44L208.43,115.65L210.20,114.76L211.98,113.76L213.82,112.65L215.72,111.42L217.69,110.07L219.75,108.61L221.91,107.02L224.15,105.32L226.49,103.52L228.90,101.63L231.37,99.67L233.89,97.66L236.43,95.63L238.96,93.59L241.48,91.58L243.95,89.62L246.36,87.73L248.70,85.93L250.94,84.23L253.10,82.65L255.16,81.18L257.13,79.84L259.03,78.61L260.87,77.49L262.65,76.50L264.42,75.61L266.18,74.82L267.98,74.11L269.83,73.48L271.76,72.92L273.78,72.42L275.89,71.96L278.07,71.56L280.29,71.21L282.48,70.91L284.55,70.66L286.42,70.46L287.98,70.31L289.19,70.21L290.00,70.14L290.46,70.11L290.65,70.10L290.68,70.10L290.68,71.85L290.65,71.85L290.46,71.87L290.00,71.90L289.19,71.96L287.98,72.06L286.42,72.21L284.55,72.41L282.48,72.66L280.29,72.97L278.07,73.32L275.89,73.72L273.78,74.17L271.76,74.68L269.83,75.24L267.98,75.87L266.18,76.57L264.42,77.36L262.65,78.25L260.87,79.25L259.03,80.36L257.13,81.59L255.16,82.94L253.10,84.40L250.94,85.99L248.70,87.69L246.36,89.49L243.95,91.38L241.48,93.34L238.96,95.35L236.43,97.38L233.89,99.42L231.37,101.43L228.90,103.39L226.49,105.28L224.15,107.08L221.91,108.78L219.75,110.36L217.69,111.83L215.72,113.18L213.82,114.40L211.98,115.52L210.20,116.51L208.43,117.40L206.67,118.19L204.87,118.90L203.02,119.53L201.09,120.09L199.07,120.59L196.96,121.05L194.78,121.45L192.56,121.80L190.37,122.10L188.30,122.35L186.43,122.55L184.87,122.70L183.66,122.81L182.85,122.87L182.39,122.90L182.20,122.91L182.18,122.91Z" fill="#17B3B7"/>
<path d="M344.92,70.10L344.95,70.10L345.14,70.10L345.60,70.10L346.41,70.10L347.62,70.10L349.18,70.10L351.05,70.10L353.12,70.10L355.31,70.10L357.53,70.10L359.71,70.10L361.82,70.10L363.84,70.10L365.77,70.10L367.62,70.10L369.42,70.10L371.18,70.10L372.95,70.10L374.73,70.10L376.57,70.10L378.47,70.10L380.44,70.10L382.50,70.10L384.66,70.10L386.90,70.10L389.24,70.10L391.65,70.10L394.12,70.10L396.64,70.10L399.18,70.10L401.71,70.10L404.23,70.10L406.70,70.10L409.11,70.10L411.45,70.10L413.69,70.10L415.85,70.10L417.91,70.10L419.88,70.10L421.78,70.10L423.62,70.10L425.40,70.10L427.17,70.10L428.93,70.10L430.73,70.10L432.58,70.10L434.51,70.10L436.53,70.10L438.64,70.10L440.82,70.10L443.04,70.10L445.23,70.10L447.30,70.10L449.17,70.10L450.73,70.10L451.94,70.10L452.75,70.10L453.21,70.10L453.40,70.10L453.43,70.10L453.43,71.85L453.40,71.85L453.21,71.85L452.75,71.85L451.94,71.85L450.73,71.85L449.17,71.85L447.30,71.85L445.23,71.85L443.04,71.85L440.82,71.85L438.64,71.85L436.53,71.85L434.51,71.85L432.58,71.85L430.73,71.85L428.93,71.85L427.17,71.85L425.40,71.85L423.62,71.85L421.78,71.85L419.88,71.85L417.91,71.85L415.85,71.85L413.69,71.85L411.45,71.85L409.11,71.85L406.70,71.85L404.23,71.85L401.71,71.85L399.18,71.85L396.64,71.85L394.12,71.85L391.65,71.85L389.24,71.85L386.90,71.85L384.66,71.85L382.50,71.85L380.44,71.85L378.47,71.85L376.57,71.85L374.73,71.85L372.95,71.85L371.18,71.85L369.42,71.85L367.62,71.85L365.77,71.85L363.84,71.85L361.82,71.85L359.71,71.85L357.53,71.85L355.31,71.85L353.12,71.85L351.05,71.85L349.18,71.85L347.62,71.85L346.41,71.85L345.60,71.85L345.14,71.85L344.95,71.85L344.92,71.85Z" fill="#17B3B7"/>
<path d="M182.18,172.22L182.20,172.22L182.39,172.19L182.85,172.13L183.66,172.02L184.87,171.83L186.43,171.55L188.30,171.18L190.37,170.71L192.56,170.15L194.78,169.50L196.96,168.75L199.07,167.91L201.09,166.98L203.02,165.93L204.87,164.77L206.67,163.46L208.43,161.99L210.20,160.34L211.98,158.49L213.82,156.42L215.72,154.14L217.69,151.64L219.75,148.92L221.91,145.98L224.15,142.83L226.49,139.49L228.90,135.98L231.37,132.34L233.89,128.61L236.43,124.83L238.96,121.05L241.48,117.32L243.95,113.68L246.36,110.17L248.70,106.83L250.94,103.68L253.10,100.73L255.16,98.01L257.13,95.51L259.03,93.23L260.87,91.17L262.65,89.32L264.42,87.67L266.18,86.20L267.98,84.89L269.83,83.72L271.76,82.68L273.78,81.74L275.89,80.90L278.07,80.16L280.29,79.51L282.48,78.94L284.55,78.48L286.42,78.11L287.98,77.83L289.19,77.64L290.00,77.52L290.46,77.46L290.65,77.44L290.68,77.44L290.68,79.51L290.65,79.51L290.46,79.54L290.00,79.60L289.19,79.71L287.98,79.90L286.42,80.18L284.55,80.55L282.48,81.02L280.29,81.58L278.07,82.23L275.89,82.98L273.78,83.82L271.76,84.75L269.83,85.80L267.98,86.96L266.18,88.27L264.42,89.74L262.65,91.39L260.87,93.24L259.03,95.31L257.13,97.59L255.16,100.09L253.10,102.81L250.94,105.75L248.70,108.90L246.36,112.24L243.95,115.75L241.48,119.39L238.96,123.12L236.43,126.90L233.89,130.68L231.37,134.41L228.90,138.05L226.49,141.56L224.15,144.90L221.91,148.05L219.75,151.00L217.69,153.72L215.72,156.22L213.82,158.50L211.98,160.56L210.20,162.41L208.43,164.06L206.67,165.53L204.87,166.84L203.02,168.01L201.09,169.05L199.07,169.99L196.96,170.83L194.78,171.57L192.56,172.22L190.37,172.79L188.30,173.25L186.43,173.62L184.87,173.90L183.66,174.09L182.85,174.21L182.39,174.27L182.20,174.29L182.18,174.29Z" fill="#17B3B7"/>
<path d="M344.92,77.44L344.95,77.44L345.14,77.44L345.60,77.44L346.41,77.44L347.62,77.44L349.18,77.44L351.05,77.44L353.12,77.44L355.31,77.44L357.53,77.44L359.71,77.44L361.82,77.44L363.84,77.44L365.77,77.44L367.62,77.44L369.42,77.44L371.18,77.44L372.95,77.44L374.73,77.44L376.57,77.44L378.47,77.44L380.44,77.44L382.50,77.44L384.66,77.44L386.90,77.44L389.24,77.44L391.65,77.44L394.12,77.44L396.64,77.44L399.18,77.44L401.71,77.44L404.23,77.44L406.70,77.44L409.11,77.44L411.45,77.44L413.69,77.44L415.85,77.44L417.91,77.44L419.88,77.44L421.78,77.44L423.62,77.44L425.40,77.44L427.17,77.44L428.93,77.44L430.73,77.44L432.58,77.44L434.51,77.44L436.53,77.44L438.64,77.44L440.82,77.44L443.04,77.44L445.23,77.44L447.30,77.44L449.17,77.44L450.73,77.44L451.94,77.44L452.75,77.44L453.21,77.44L453.40,77.44L453.43,77.44L453.43,79.51L453.40,79.51L453.21,79.51L452.75,79.51L451.94,79.51L450.73,79.51L449.17,79.51L447.30,79.51L445.23,79.51L443.04,79.51L440.82,79.51L438.64,79.51L436.53,79.51L434.51,79.51L432.58,79.51L430.73,79.51L428.93,79.51L427.17,79.51L425.40,79.51L423.62,79.51L421.78,79.51L419.88,79.51L417.91,79.51L415.85,79.51L413.69,79.51L411.45,79.51L409.11,79.51L406.70,79.51L404.23,79.51L401.71,79.51L399.18,79.51L396.64,79.51L394.12,79.51L391.65,79.51L389.24,79.51L386.90,79.51L384.66,79.51L382.50,79.51L380.44,79.51L378.47,79.51L376.57,79.51L374.73,79.51L372.95,79.51L371.18,79.51L369.42,79.51L367.62,79.51L365.77,79.51L363.84,79.51L361.82,79.51L359.71,79.51L357.53,79.51L355.31,79.51L353.12,79.51L351.05,79.51L349.18,79.51L347.62,79.51L346.41,79.51L345.60,79.51L345.14,79.51L344.95,79.51L344.92,79.51Z" fill="#17B3B7"/>
<path d="M182.18,98.02L182.20,98.03L182.39,98.09L182.85,98.24L183.66,98.54L184.87,99.04L186.43,99.77L188.30,100.74L190.37,101.96L192.56,103.42L194.78,105.13L196.96,107.07L199.07,109.26L201.09,111.70L203.02,114.43L204.87,117.48L206.67,120.89L208.43,124.73L210.20,129.04L211.98,133.88L213.82,139.27L215.72,145.22L217.69,151.74L219.75,158.85L221.91,166.53L224.15,174.76L226.49,183.49L228.90,192.65L231.37,202.16L233.89,211.90L236.43,221.76L238.96,231.63L241.48,241.37L243.95,250.87L246.36,260.04L248.70,268.76L250.94,276.99L253.10,284.68L255.16,291.78L257.13,298.31L259.03,304.26L260.87,309.65L262.65,314.49L264.42,318.80L266.18,322.63L267.98,326.05L269.83,329.10L271.76,331.82L273.78,334.27L275.89,336.45L278.07,338.40L280.29,340.10L282.48,341.57L284.55,342.79L286.42,343.76L287.98,344.48L289.19,344.98L290.00,345.29L290.46,345.44L290.65,345.50L290.68,345.50L290.68,345.66L290.65,345.66L290.46,345.60L290.00,345.45L289.19,345.14L287.98,344.64L286.42,343.92L284.55,342.95L282.48,341.73L280.29,340.26L278.07,338.56L275.89,336.61L273.78,334.43L271.76,331.98L269.83,329.25L267.98,326.21L266.18,322.79L264.42,318.96L262.65,314.65L260.87,309.81L259.03,304.42L257.13,298.47L255.16,291.94L253.10,284.83L250.94,277.15L248.70,268.92L246.36,260.19L243.95,251.03L241.48,241.53L238.96,231.79L236.43,221.92L233.89,212.06L231.37,202.31L228.90,192.81L226.49,183.65L224.15,174.92L221.91,166.69L219.75,159.01L217.69,151.90L215.72,145.38L213.82,139.43L211.98,134.04L210.20,129.20L208.43,124.89L206.67,121.05L204.87,117.64L203.02,114.59L201.09,111.86L199.07,109.42L196.96,107.23L194.78,105.29L192.56,103.58L190.37,102.12L188.30,100.90L186.43,99.93L184.87,99.20L183.66,98.70L182.85,98.40L182.39,98.24L182.20,98.19L182.18,98.18Z" fill="#17B3B7"/>
<path d="M344.92,345.50L344.95,345.50L345.14,345.44L345.60,345.27L346.41,344.94L347.62,344.41L349.18,343.63L351.05,342.59L353.12,341.28L355.31,339.70L357.53,337.87L359.71,335.78L361.82,333.43L363.84,330.80L365.77,327.87L367.62,324.59L369.42,320.92L371.18,316.80L372.95,312.17L374.73,306.97L376.57,301.17L378.47,294.78L380.44,287.76L382.50,280.13L384.66,271.87L386.90,263.02L389.24,253.64L391.65,243.80L394.12,233.58L396.64,223.11L399.18,212.51L401.71,201.91L404.23,191.43L406.70,181.22L409.11,171.37L411.45,161.99L413.69,153.15L415.85,144.89L417.91,137.25L419.88,130.24L421.78,123.84L423.62,118.05L425.40,112.85L427.17,108.22L428.93,104.10L430.73,100.43L432.58,97.15L434.51,94.22L436.53,91.59L438.64,89.24L440.82,87.15L443.04,85.32L445.23,83.74L447.30,82.43L449.17,81.39L450.73,80.61L451.94,80.07L452.75,79.75L453.21,79.58L453.40,79.52L453.43,79.51L453.43,79.67L453.40,79.68L453.21,79.74L452.75,79.91L451.94,80.23L450.73,80.77L449.17,81.55L447.30,82.59L445.23,83.90L443.04,85.48L440.82,87.31L438.64,89.40L436.53,91.75L434.51,94.38L432.58,97.31L430.73,100.58L428.93,104.26L427.17,108.38L425.40,113.01L423.62,118.21L421.78,124.00L419.88,130.40L417.91,137.41L415.85,145.05L413.69,153.31L411.45,162.15L409.11,171.53L406.70,181.38L404.23,191.59L401.71,202.06L399.18,212.67L396.64,223.27L394.12,233.74L391.65,243.96L389.24,253.80L386.90,263.18L384.66,272.03L382.50,280.29L380.44,287.92L378.47,294.94L376.57,301.33L374.73,307.13L372.95,312.33L371.18,316.96L369.42,321.08L367.62,324.75L365.77,328.03L363.84,330.96L361.82,333.59L359.71,335.94L357.53,338.03L355.31,339.86L353.12,341.43L351.05,342.75L349.18,343.79L347.62,344.57L346.41,345.10L345.60,345.43L345.14,345.60L344.95,345.66L344.92,345.66Z" fill="#17B3B7"/>
<path d="M182.18,149.72L182.20,149.73L182.39,149.77L182.85,149.89L183.66,150.13L184.87,150.53L186.43,151.10L188.30,151.87L190.37,152.84L192.56,154.00L194.78,155.35L196.96,156.89L199.07,158.62L201.09,160.55L203.02,162.71L204.87,165.13L206.67,167.83L208.43,170.87L210.20,174.28L211.98,178.11L213.82,182.38L215.72,187.09L217.69,192.25L219.75,197.88L221.91,203.96L224.15,210.48L226.49,217.39L228.90,224.64L231.37,232.17L233.89,239.88L236.43,247.69L238.96,255.50L241.48,263.22L243.95,270.74L246.36,277.99L248.70,284.91L250.94,291.42L253.10,297.50L255.16,303.13L257.13,308.30L259.03,313.01L260.87,317.28L262.65,321.11L264.42,324.52L266.18,327.55L267.98,330.26L269.83,332.67L271.76,334.83L273.78,336.77L275.89,338.50L278.07,340.04L280.29,341.39L282.48,342.55L284.55,343.51L286.42,344.28L287.98,344.86L289.19,345.25L290.00,345.49L290.46,345.61L290.65,345.66L290.68,345.66L290.68,347.74L290.65,347.73L290.46,347.69L290.00,347.57L289.19,347.32L287.98,346.93L286.42,346.36L284.55,345.59L282.48,344.62L280.29,343.46L278.07,342.11L275.89,340.57L273.78,338.84L271.76,336.91L269.83,334.75L267.98,332.33L266.18,329.63L264.42,326.59L262.65,323.18L260.87,319.35L259.03,315.08L257.13,310.37L255.16,305.20L253.10,299.58L250.94,293.50L248.70,286.98L246.36,280.07L243.95,272.82L241.48,265.29L238.96,257.58L236.43,249.77L233.89,241.96L231.37,234.24L228.90,226.72L226.49,219.46L224.15,212.55L221.91,206.04L219.75,199.96L217.69,194.33L215.72,189.16L213.82,184.45L211.98,180.18L210.20,176.35L208.43,172.94L206.67,169.90L204.87,167.20L203.02,164.79L201.09,162.63L199.07,160.69L196.96,158.96L194.78,157.42L192.56,156.07L190.37,154.91L188.30,153.94L186.43,153.18L184.87,152.60L183.66,152.21L182.85,151.97L182.39,151.84L182.20,151.80L182.18,151.79Z" fill="#17B3B7"/>
<path d="M344.92,345.66L344.95,345.66L345.14,345.60L345.60,345.43L346.41,345.10L347.62,344.57L349.18,343.79L351.05,342.75L353.12,341.43L355.31,339.86L357.53,338.03L359.71,335.94L361.82,333.59L363.84,330.96L365.77,328.03L367.62,324.75L369.42,321.08L371.18,316.96L372.95,312.33L374.73,307.13L376.57,301.33L378.47,294.94L380.44,287.92L382.50,280.29L384.66,272.03L386.90,263.18L389.24,253.80L391.65,243.96L394.12,233.74L396.64,223.27L399.18,212.67L401.71,202.06L404.23,191.59L406.70,181.38L409.11,171.53L411.45,162.15L413.69,153.31L415.85,145.05L417.91,137.41L419.88,130.40L421.78,124.00L423.62,118.21L425.40,113.01L427.17,108.38L428.93,104.26L430.73,100.58L432.58,97.31L434.51,94.38L436.53,91.75L438.64,89.40L440.82,87.31L443.04,85.48L445.23,83.90L447.30,82.59L449.17,81.55L450.73,80.77L451.94,80.23L452.75,79.91L453.21,79.74L453.40,79.68L453.43,79.67L453.43,81.75L453.40,81.75L453.21,81.81L452.75,81.98L451.94,82.31L450.73,82.84L449.17,83.62L447.30,84.66L445.23,85.98L443.04,87.55L440.82,89.38L438.64,91.47L436.53,93.82L434.51,96.45L432.58,99.38L430.73,102.66L428.93,106.33L427.17,110.45L425.40,115.08L423.62,120.28L421.78,126.08L419.88,132.47L417.91,139.49L415.85,147.12L413.69,155.38L411.45,164.23L409.11,173.61L406.70,183.45L404.23,193.67L401.71,204.14L399.18,214.74L396.64,225.35L394.12,235.82L391.65,246.03L389.24,255.88L386.90,265.26L384.66,274.10L382.50,282.36L380.44,290.00L378.47,297.01L376.57,303.41L374.73,309.20L372.95,314.40L371.18,319.03L369.42,323.15L367.62,326.83L365.77,330.10L363.84,333.03L361.82,335.66L359.71,338.01L357.53,340.10L355.31,341.93L353.12,343.51L351.05,344.82L349.18,345.86L347.62,346.64L346.41,347.18L345.60,347.50L345.14,347.67L344.95,347.73L344.92,347.74Z" fill="#17B3B7"/>
<path d="M182.18,250.72L182.20,250.73L182.39,250.75L182.85,250.81L183.66,250.93L184.87,251.14L186.43,251.43L188.30,251.82L190.37,252.31L192.56,252.90L194.78,253.59L196.96,254.37L199.07,255.25L201.09,256.24L203.02,257.34L204.87,258.56L206.67,259.94L208.43,261.49L210.20,263.22L211.98,265.17L213.82,267.35L215.72,269.74L217.69,272.37L219.75,275.24L221.91,278.33L224.15,281.65L226.49,285.17L228.90,288.86L231.37,292.69L233.89,296.61L236.43,300.59L238.96,304.56L241.48,308.49L243.95,312.32L246.36,316.01L248.70,319.53L250.94,322.84L253.10,325.94L255.16,328.80L257.13,331.43L259.03,333.83L260.87,336.00L262.65,337.95L264.42,339.69L266.18,341.23L267.98,342.61L269.83,343.84L271.76,344.94L273.78,345.92L275.89,346.80L278.07,347.59L280.29,348.28L282.48,348.87L284.55,349.36L286.42,349.75L287.98,350.04L289.19,350.24L290.00,350.36L290.46,350.43L290.65,350.45L290.68,350.45L290.68,352.69L290.65,352.68L290.46,352.66L290.00,352.60L289.19,352.47L287.98,352.27L286.42,351.98L284.55,351.59L282.48,351.10L280.29,350.51L278.07,349.82L275.89,349.04L273.78,348.16L271.76,347.17L269.83,346.07L267.98,344.84L266.18,343.47L264.42,341.92L262.65,340.19L260.87,338.24L259.03,336.06L257.13,333.67L255.16,331.04L253.10,328.17L250.94,325.08L248.70,321.76L246.36,318.24L243.95,314.55L241.48,310.72L238.96,306.80L236.43,302.82L233.89,298.85L231.37,294.92L228.90,291.09L226.49,287.40L224.15,283.88L221.91,280.57L219.75,277.47L217.69,274.61L215.72,271.98L213.82,269.58L211.98,267.41L210.20,265.46L208.43,263.72L206.67,262.18L204.87,260.80L203.02,259.57L201.09,258.47L199.07,257.49L196.96,256.60L194.78,255.82L192.56,255.13L190.37,254.54L188.30,254.05L186.43,253.66L184.87,253.37L183.66,253.17L182.85,253.05L182.39,252.98L182.20,252.96L182.18,252.96Z" fill="#17B3B7"/>
<path d="M344.92,350.45L344.95,350.44L345.14,350.38L345.60,350.22L346.41,349.89L347.62,349.35L349.18,348.57L351.05,347.53L353.12,346.22L355.31,344.65L357.53,342.81L359.71,340.72L361.82,338.37L363.84,335.75L365.77,332.81L367.62,329.54L369.42,325.87L371.18,321.75L372.95,317.11L374.73,311.91L376.57,306.12L378.47,299.72L380.44,292.71L382.50,285.07L384.66,276.82L386.90,267.97L389.24,258.59L391.65,248.74L394.12,238.53L396.64,228.06L399.18,217.45L401.71,206.85L404.23,196.38L406.70,186.17L409.11,176.32L411.45,166.94L413.69,158.09L415.85,149.84L417.91,142.20L419.88,135.19L421.78,128.79L423.62,122.99L425.40,117.80L427.17,113.16L428.93,109.04L430.73,105.37L432.58,102.10L434.51,99.16L436.53,96.54L438.64,94.19L440.82,92.10L443.04,90.26L445.23,88.69L447.30,87.38L449.17,86.34L450.73,85.56L451.94,85.02L452.75,84.69L453.21,84.53L453.40,84.47L453.43,84.46L453.43,86.69L453.40,86.70L453.21,86.76L452.75,86.93L451.94,87.26L450.73,87.79L449.17,88.57L447.30,89.61L445.23,90.92L443.04,92.50L440.82,94.33L438.64,96.42L436.53,98.77L434.51,101.40L432.58,104.33L430.73,107.61L428.93,111.28L427.17,115.40L425.40,120.03L423.62,125.23L421.78,131.02L419.88,137.42L417.91,144.43L415.85,152.07L413.69,160.33L411.45,169.17L409.11,178.55L406.70,188.40L404.23,198.61L401.71,209.09L399.18,219.69L396.64,230.29L394.12,240.76L391.65,250.98L389.24,260.82L386.90,270.21L384.66,279.05L382.50,287.31L380.44,294.94L378.47,301.96L376.57,308.35L374.73,314.15L372.95,319.35L371.18,323.98L369.42,328.10L367.62,331.77L365.77,335.05L363.84,337.98L361.82,340.61L359.71,342.96L357.53,345.05L355.31,346.88L353.12,348.46L351.05,349.77L349.18,350.81L347.62,351.59L346.41,352.12L345.60,352.45L345.14,352.62L344.95,352.68L344.92,352.69Z" fill="#17B3B7"/>
<path d="M182.18,88.93L182.20,88.93L182.39,88.93L182.85,88.93L183.66,88.95L184.87,88.96L186.43,88.99L188.30,89.03L190.37,89.08L192.56,89.13L194.78,89.20L196.96,89.27L199.07,89.35L201.09,89.45L203.02,89.55L204.87,89.67L206.67,89.80L208.43,89.94L210.20,90.11L211.98,90.29L213.82,90.50L215.72,90.72L217.69,90.97L219.75,91.24L221.91,91.53L224.15,91.85L226.49,92.18L228.90,92.53L231.37,92.89L233.89,93.26L236.43,93.63L238.96,94.01L241.48,94.38L243.95,94.74L246.36,95.09L248.70,95.42L250.94,95.73L253.10,96.03L255.16,96.30L257.13,96.54L259.03,96.77L260.87,96.98L262.65,97.16L264.42,97.32L266.18,97.47L267.98,97.60L269.83,97.72L271.76,97.82L273.78,97.91L275.89,98.00L278.07,98.07L280.29,98.13L282.48,98.19L284.55,98.24L286.42,98.27L287.98,98.30L289.19,98.32L290.00,98.33L290.46,98.34L290.65,98.34L290.68,98.34L290.68,107.44L290.65,107.44L290.46,107.43L290.00,107.43L289.19,107.42L287.98,107.40L286.42,107.37L284.55,107.33L282.48,107.29L280.29,107.23L278.07,107.17L275.89,107.09L273.78,107.01L271.76,106.91L269.83,106.81L267.98,106.70L266.18,106.57L264.42,106.42L262.65,106.26L260.87,106.07L259.03,105.87L257.13,105.64L255.16,105.39L253.10,105.12L250.94,104.83L248.70,104.52L246.36,104.18L243.95,103.84L241.48,103.47L238.96,103.10L236.43,102.73L233.89,102.35L231.37,101.98L228.90,101.62L226.49,101.27L224.15,100.94L221.91,100.63L219.75,100.34L217.69,100.06L215.72,99.82L213.82,99.59L211.98,99.39L210.20,99.20L208.43,99.04L206.67,98.89L204.87,98.76L203.02,98.65L201.09,98.54L199.07,98.45L196.96,98.37L194.78,98.29L192.56,98.23L190.37,98.17L188.30,98.12L186.43,98.09L184.87,98.06L183.66,98.04L182.85,98.03L182.39,98.02L182.20,98.02L182.18,98.02Z" fill="#17B3B7"/>
<path d="M344.92,98.34L344.95,98.34L345.14,98.34L345.60,98.35L346.41,98.36L347.62,98.37L349.18,98.39L351.05,98.42L353.12,98.45L355.31,98.50L357.53,98.55L359.71,98.60L361.82,98.67L363.84,98.74L365.77,98.82L367.62,98.90L369.42,99.00L371.18,99.12L372.95,99.24L374.73,99.38L376.57,99.54L378.47,99.71L380.44,99.90L382.50,100.11L384.66,100.33L386.90,100.57L389.24,100.82L391.65,101.09L394.12,101.36L396.64,101.64L399.18,101.93L401.71,102.22L404.23,102.50L406.70,102.78L409.11,103.04L411.45,103.29L413.69,103.53L415.85,103.76L417.91,103.96L419.88,104.15L421.78,104.32L423.62,104.48L425.40,104.62L427.17,104.75L428.93,104.86L430.73,104.96L432.58,105.04L434.51,105.12L436.53,105.19L438.64,105.26L440.82,105.31L443.04,105.36L445.23,105.41L447.30,105.44L449.17,105.47L450.73,105.49L451.94,105.51L452.75,105.51L453.21,105.52L453.40,105.52L453.43,105.52L453.43,114.62L453.40,114.62L453.21,114.61L452.75,114.61L451.94,114.60L450.73,114.59L449.17,114.57L447.30,114.54L445.23,114.50L443.04,114.46L440.82,114.41L438.64,114.35L436.53,114.29L434.51,114.22L432.58,114.14L430.73,114.05L428.93,113.95L427.17,113.84L425.40,113.72L423.62,113.58L421.78,113.42L419.88,113.25L417.91,113.06L415.85,112.85L413.69,112.63L411.45,112.39L409.11,112.14L406.70,111.87L404.23,111.59L401.71,111.31L399.18,111.03L396.64,110.74L394.12,110.46L391.65,110.18L389.24,109.92L386.90,109.66L384.66,109.42L382.50,109.20L380.44,108.99L378.47,108.80L376.57,108.63L374.73,108.48L372.95,108.34L371.18,108.21L369.42,108.10L367.62,108.00L365.77,107.91L363.84,107.83L361.82,107.76L359.71,107.70L357.53,107.64L355.31,107.59L353.12,107.55L351.05,107.51L349.18,107.49L347.62,107.47L346.41,107.45L345.60,107.44L345.14,107.44L344.95,107.44L344.92,107.44Z" fill="#17B3B7"/>
<path d="M182.18,147.49L182.20,147.49L182.39,147.48L182.85,147.47L183.66,147.45L184.87,147.42L186.43,147.38L188.30,147.32L190.37,147.24L192.56,147.15L194.78,147.04L196.96,146.92L199.07,146.78L201.09,146.63L203.02,146.46L204.87,146.27L206.67,146.06L208.43,145.82L210.20,145.55L211.98,145.24L213.82,144.91L215.72,144.53L217.69,144.13L219.75,143.68L221.91,143.20L224.15,142.69L226.49,142.14L228.90,141.57L231.37,140.97L233.89,140.36L236.43,139.75L238.96,139.13L241.48,138.52L243.95,137.93L246.36,137.35L248.70,136.81L250.94,136.29L253.10,135.81L255.16,135.37L257.13,134.96L259.03,134.59L260.87,134.25L262.65,133.95L264.42,133.68L266.18,133.44L267.98,133.23L269.83,133.03L271.76,132.86L273.78,132.71L275.89,132.57L278.07,132.45L280.29,132.35L282.48,132.25L284.55,132.18L286.42,132.12L287.98,132.07L289.19,132.04L290.00,132.02L290.46,132.01L290.65,132.01L290.68,132.01L290.68,134.24L290.65,134.24L290.46,134.25L290.00,134.26L289.19,134.27L287.98,134.31L286.42,134.35L284.55,134.41L282.48,134.49L280.29,134.58L278.07,134.69L275.89,134.81L273.78,134.94L271.76,135.10L269.83,135.27L267.98,135.46L266.18,135.67L264.42,135.91L262.65,136.18L260.87,136.48L259.03,136.82L257.13,137.19L255.16,137.60L253.10,138.05L250.94,138.53L248.70,139.04L246.36,139.59L243.95,140.16L241.48,140.75L238.96,141.36L236.43,141.98L233.89,142.60L231.37,143.21L228.90,143.80L226.49,144.37L224.15,144.92L221.91,145.44L219.75,145.92L217.69,146.36L215.72,146.77L213.82,147.14L211.98,147.48L210.20,147.78L208.43,148.05L206.67,148.29L204.87,148.50L203.02,148.69L201.09,148.86L199.07,149.02L196.96,149.15L194.78,149.28L192.56,149.38L190.37,149.47L188.30,149.55L186.43,149.61L184.87,149.66L183.66,149.69L182.85,149.71L182.39,149.72L182.20,149.72L182.18,149.72Z" fill="#17B3B7"/>
<path d="M344.92,132.01L344.95,132.01L345.14,132.01L345.60,132.01L346.41,132.02L347.62,132.04L349.18,132.06L351.05,132.09L353.12,132.12L355.31,132.16L357.53,132.21L359.71,132.27L361.82,132.33L363.84,132.41L365.77,132.48L367.62,132.57L369.42,132.67L371.18,132.78L372.95,132.91L374.73,133.05L376.57,133.21L378.47,133.38L380.44,133.57L382.50,133.77L384.66,134.00L386.90,134.23L389.24,134.49L391.65,134.75L394.12,135.03L396.64,135.31L399.18,135.60L401.71,135.88L404.23,136.17L406.70,136.44L409.11,136.71L411.45,136.96L413.69,137.20L415.85,137.42L417.91,137.63L419.88,137.82L421.78,137.99L423.62,138.15L425.40,138.29L427.17,138.41L428.93,138.53L430.73,138.62L432.58,138.71L434.51,138.79L436.53,138.86L438.64,138.93L440.82,138.98L443.04,139.03L445.23,139.07L447.30,139.11L449.17,139.14L450.73,139.16L451.94,139.17L452.75,139.18L453.21,139.19L453.40,139.19L453.43,139.19L453.43,141.42L453.40,141.42L453.21,141.42L452.75,141.42L451.94,141.41L450.73,141.39L449.17,141.37L447.30,141.34L445.23,141.31L443.04,141.27L440.82,141.22L438.64,141.16L436.53,141.10L434.51,141.03L432.58,140.95L430.73,140.86L428.93,140.76L427.17,140.65L425.40,140.52L423.62,140.38L421.78,140.23L419.88,140.05L417.91,139.86L415.85,139.66L413.69,139.43L411.45,139.20L409.11,138.94L406.70,138.68L404.23,138.40L401.71,138.12L399.18,137.83L396.64,137.55L394.12,137.26L391.65,136.99L389.24,136.72L386.90,136.47L384.66,136.23L382.50,136.01L380.44,135.80L378.47,135.61L376.57,135.44L374.73,135.28L372.95,135.14L371.18,135.02L369.42,134.91L367.62,134.81L365.77,134.72L363.84,134.64L361.82,134.57L359.71,134.50L357.53,134.45L355.31,134.40L353.12,134.36L351.05,134.32L349.18,134.29L347.62,134.27L346.41,134.26L345.60,134.25L345.14,134.24L344.95,134.24L344.92,134.24Z" fill="#17B3B7"/>
<path d="M182.18,236.04L182.20,236.04L182.39,236.03L182.85,236.01L183.66,235.96L184.87,235.88L186.43,235.76L188.30,235.60L190.37,235.41L192.56,235.17L194.78,234.89L196.96,234.58L199.07,234.23L201.09,233.83L203.02,233.39L204.87,232.90L206.67,232.34L208.43,231.72L210.20,231.02L211.98,230.24L213.82,229.37L215.72,228.41L217.69,227.35L219.75,226.20L221.91,224.96L224.15,223.63L226.49,222.21L228.90,220.73L231.37,219.19L233.89,217.62L236.43,216.02L238.96,214.42L241.48,212.85L243.95,211.31L246.36,209.83L248.70,208.41L250.94,207.08L253.10,205.84L255.16,204.69L257.13,203.63L259.03,202.67L260.87,201.80L262.65,201.01L264.42,200.32L266.18,199.70L267.98,199.14L269.83,198.65L271.76,198.21L273.78,197.81L275.89,197.46L278.07,197.14L280.29,196.87L282.48,196.63L284.55,196.43L286.42,196.28L287.98,196.16L289.19,196.08L290.00,196.03L290.46,196.00L290.65,195.99L290.68,195.99L290.68,207.96L290.65,207.96L290.46,207.97L290.00,208.00L289.19,208.05L287.98,208.13L286.42,208.24L284.55,208.40L282.48,208.60L280.29,208.83L278.07,209.11L275.89,209.43L273.78,209.78L271.76,210.17L269.83,210.62L267.98,211.11L266.18,211.66L264.42,212.28L262.65,212.98L260.87,213.76L259.03,214.64L257.13,215.60L255.16,216.65L253.10,217.80L250.94,219.05L248.70,220.38L246.36,221.79L243.95,223.27L241.48,224.81L238.96,226.39L236.43,227.99L233.89,229.58L231.37,231.16L228.90,232.70L226.49,234.18L224.15,235.59L221.91,236.92L219.75,238.17L217.69,239.32L215.72,240.37L213.82,241.34L211.98,242.21L210.20,242.99L208.43,243.69L206.67,244.31L204.87,244.86L203.02,245.36L201.09,245.80L199.07,246.19L196.96,246.55L194.78,246.86L192.56,247.14L190.37,247.37L188.30,247.57L186.43,247.73L184.87,247.85L183.66,247.93L182.85,247.98L182.39,248.00L182.20,248.01L182.18,248.01Z" fill="#17B3B7"/>
<path d="M344.92,195.99L344.95,195.99L345.14,196.00L345.60,196.00L346.41,196.01L347.62,196.02L349.18,196.04L351.05,196.07L353.12,196.11L355.31,196.15L357.53,196.20L359.71,196.26L361.82,196.32L363.84,196.39L365.77,196.47L367.62,196.56L369.42,196.66L371.18,196.77L372.95,196.89L374.73,197.03L376.57,197.19L378.47,197.36L380.44,197.55L382.50,197.76L384.66,197.98L386.90,198.22L389.24,198.47L391.65,198.74L394.12,199.01L396.64,199.30L399.18,199.58L401.71,199.87L404.23,200.15L406.70,200.43L409.11,200.69L411.45,200.95L413.69,201.19L415.85,201.41L417.91,201.62L419.88,201.80L421.78,201.98L423.62,202.13L425.40,202.27L427.17,202.40L428.93,202.51L430.73,202.61L432.58,202.70L434.51,202.78L436.53,202.85L438.64,202.91L440.82,202.97L443.04,203.02L445.23,203.06L447.30,203.10L449.17,203.12L450.73,203.14L451.94,203.16L452.75,203.17L453.21,203.17L453.40,203.17L453.43,203.17L453.43,215.14L453.40,215.14L453.21,215.14L452.75,215.13L451.94,215.13L450.73,215.11L449.17,215.09L447.30,215.06L445.23,215.03L443.04,214.98L440.82,214.93L438.64,214.88L436.53,214.82L434.51,214.74L432.58,214.67L430.73,214.58L428.93,214.48L427.17,214.37L425.40,214.24L423.62,214.10L421.78,213.94L419.88,213.77L417.91,213.58L415.85,213.38L413.69,213.15L411.45,212.91L409.11,212.66L406.70,212.40L404.23,212.12L401.71,211.84L399.18,211.55L396.64,211.26L394.12,210.98L391.65,210.71L389.24,210.44L386.90,210.19L384.66,209.95L382.50,209.73L380.44,209.52L378.47,209.33L376.57,209.16L374.73,209.00L372.95,208.86L371.18,208.74L369.42,208.62L367.62,208.53L365.77,208.44L363.84,208.36L361.82,208.29L359.71,208.22L357.53,208.17L355.31,208.12L353.12,208.07L351.05,208.04L349.18,208.01L347.62,207.99L346.41,207.98L345.60,207.97L345.14,207.96L344.95,207.96L344.92,207.96Z" fill="#17B3B7"/>
<path d="M182.18,386.19L182.20,386.19L182.39,386.18L182.85,386.13L183.66,386.04L184.87,385.90L186.43,385.69L188.30,385.41L190.37,385.06L192.56,384.64L194.78,384.15L196.96,383.59L199.07,382.96L201.09,382.25L203.02,381.46L204.87,380.59L206.67,379.60L208.43,378.50L210.20,377.25L211.98,375.86L213.82,374.31L215.72,372.59L217.69,370.71L219.75,368.66L221.91,366.45L224.15,364.08L226.49,361.56L228.90,358.92L231.37,356.18L233.89,353.37L236.43,350.53L238.96,347.69L241.48,344.88L243.95,342.14L246.36,339.50L248.70,336.99L250.94,334.61L253.10,332.40L255.16,330.35L257.13,328.47L259.03,326.76L260.87,325.20L262.65,323.81L264.42,322.57L266.18,321.46L267.98,320.48L269.83,319.60L271.76,318.81L273.78,318.11L275.89,317.48L278.07,316.92L280.29,316.43L282.48,316.00L284.55,315.65L286.42,315.37L287.98,315.16L289.19,315.02L290.00,314.93L290.46,314.89L290.65,314.87L290.68,314.87L290.68,345.50L290.65,345.51L290.46,345.52L290.00,345.57L289.19,345.66L287.98,345.80L286.42,346.01L284.55,346.29L282.48,346.64L280.29,347.06L278.07,347.55L275.89,348.11L273.78,348.74L271.76,349.45L269.83,350.23L267.98,351.11L266.18,352.10L264.42,353.20L262.65,354.44L260.87,355.84L259.03,357.39L257.13,359.11L255.16,360.99L253.10,363.04L250.94,365.25L248.70,367.62L246.36,370.14L243.95,372.78L241.48,375.52L238.96,378.32L236.43,381.17L233.89,384.01L231.37,386.82L228.90,389.56L226.49,392.20L224.15,394.71L221.91,397.09L219.75,399.30L217.69,401.35L215.72,403.23L213.82,404.94L211.98,406.50L210.20,407.89L208.43,409.13L206.67,410.24L204.87,411.22L203.02,412.10L201.09,412.89L199.07,413.59L196.96,414.22L194.78,414.78L192.56,415.27L190.37,415.70L188.30,416.05L186.43,416.33L184.87,416.54L183.66,416.68L182.85,416.77L182.39,416.81L182.20,416.83L182.18,416.83Z" fill="#17B3B7"/>
<path d="M344.92,314.87L344.95,314.87L345.14,314.87L345.60,314.87L346.41,314.88L347.62,314.90L349.18,314.92L351.05,314.95L353.12,314.98L355.31,315.03L357.53,315.07L359.71,315.13L361.82,315.19L363.84,315.27L365.77,315.34L367.62,315.43L369.42,315.53L371.18,315.64L372.95,315.77L374.73,315.91L376.57,316.07L378.47,316.24L380.44,316.43L382.50,316.63L384.66,316.86L386.90,317.10L389.24,317.35L391.65,317.61L394.12,317.89L396.64,318.17L399.18,318.46L401.71,318.75L404.23,319.03L406.70,319.30L409.11,319.57L411.45,319.82L413.69,320.06L415.85,320.28L417.91,320.49L419.88,320.68L421.78,320.85L423.62,321.01L425.40,321.15L427.17,321.27L428.93,321.39L430.73,321.48L432.58,321.57L434.51,321.65L436.53,321.72L438.64,321.79L440.82,321.84L443.04,321.89L445.23,321.93L447.30,321.97L449.17,322.00L450.73,322.02L451.94,322.03L452.75,322.04L453.21,322.05L453.40,322.05L453.43,322.05L453.43,352.69L453.40,352.69L453.21,352.68L452.75,352.68L451.94,352.67L450.73,352.66L449.17,352.63L447.30,352.61L445.23,352.57L443.04,352.53L440.82,352.48L438.64,352.42L436.53,352.36L434.51,352.29L432.58,352.21L430.73,352.12L428.93,352.02L427.17,351.91L425.40,351.79L423.62,351.65L421.78,351.49L419.88,351.32L417.91,351.13L415.85,350.92L413.69,350.70L411.45,350.46L409.11,350.21L406.70,349.94L404.23,349.66L401.71,349.38L399.18,349.10L396.64,348.81L394.12,348.53L391.65,348.25L389.24,347.98L386.90,347.73L384.66,347.49L382.50,347.27L380.44,347.06L378.47,346.87L376.57,346.70L374.73,346.55L372.95,346.40L371.18,346.28L369.42,346.17L367.62,346.07L365.77,345.98L363.84,345.90L361.82,345.83L359.71,345.77L357.53,345.71L355.31,345.66L353.12,345.62L351.05,345.58L349.18,345.56L347.62,345.53L346.41,345.52L345.60,345.51L345.14,345.51L344.95,345.51L344.92,345.50Z" fill="#17B3B7"/>
<path d="M182.18,98.82L182.20,98.83L182.39,98.88L182.85,99.04L183.66,99.36L184.87,99.87L186.43,100.62L188.30,101.61L190.37,102.87L192.56,104.37L194.78,106.13L196.96,108.13L199.07,110.37L201.09,112.89L203.02,115.69L204.87,118.83L206.67,122.34L208.43,126.28L210.20,130.72L211.98,135.69L213.82,141.24L215.72,147.36L217.69,154.07L219.75,161.37L221.91,169.27L224.15,177.74L226.49,186.71L228.90,196.13L231.37,205.91L233.89,215.93L236.43,226.07L238.96,236.22L241.48,246.24L243.95,256.01L246.36,265.43L248.70,274.41L250.94,282.87L253.10,290.77L255.16,298.08L257.13,304.79L259.03,310.91L260.87,316.45L262.65,321.43L264.42,325.86L266.18,329.80L267.98,333.31L269.83,336.45L271.76,339.25L273.78,341.77L275.89,344.02L278.07,346.02L280.29,347.77L282.48,349.28L284.55,350.53L286.42,351.53L287.98,352.27L289.19,352.78L290.00,353.10L290.46,353.26L290.65,353.32L290.68,353.32L290.68,375.66L290.65,375.65L290.46,375.60L290.00,375.44L289.19,375.12L287.98,374.61L286.42,373.87L284.55,372.87L282.48,371.62L280.29,370.11L278.07,368.35L275.89,366.36L273.78,364.11L271.76,361.59L269.83,358.79L267.98,355.65L266.18,352.14L264.42,348.20L262.65,343.76L260.87,338.79L259.03,333.25L257.13,327.13L255.16,320.42L253.10,313.11L250.94,305.21L248.70,296.74L246.36,287.77L243.95,278.35L241.48,268.57L238.96,258.56L236.43,248.41L233.89,238.27L231.37,228.25L228.90,218.47L226.49,209.05L224.15,200.08L221.91,191.61L219.75,183.71L217.69,176.40L215.72,169.70L213.82,163.58L211.98,158.03L210.20,153.06L208.43,148.62L206.67,144.68L204.87,141.17L203.02,138.03L201.09,135.23L199.07,132.71L196.96,130.47L194.78,128.47L192.56,126.71L190.37,125.20L188.30,123.95L186.43,122.95L184.87,122.21L183.66,121.70L182.85,121.38L182.39,121.22L182.20,121.17L182.18,121.16Z" fill="#17B3B7"/>
<path d="M344.92,353.32L344.95,353.32L345.14,353.32L345.60,353.32L346.41,353.32L347.62,353.32L349.18,353.32L351.05,353.32L353.12,353.32L355.31,353.32L357.53,353.32L359.71,353.32L361.82,353.32L363.84,353.32L365.77,353.32L367.62,353.32L369.42,353.32L371.18,353.32L372.95,353.32L374.73,353.32L376.57,353.32L378.47,353.32L380.44,353.32L382.50,353.32L384.66,353.32L386.90,353.32L389.24,353.32L391.65,353.32L394.12,353.32L396.64,353.32L399.18,353.32L401.71,353.32L404.23,353.32L406.70,353.32L409.11,353.32L411.45,353.32L413.69,353.32L415.85,353.32L417.91,353.32L419.88,353.32L421.78,353.32L423.62,353.32L425.40,353.32L427.17,353.32L428.93,353.32L430.73,353.32L432.58,353.32L434.51,353.32L436.53,353.32L438.64,353.32L440.82,353.32L443.04,353.32L445.23,353.32L447.30,353.32L449.17,353.32L450.73,353.32L451.94,353.32L452.75,353.32L453.21,353.32L453.40,353.32L453.43,353.32L453.43,375.66L453.40,375.66L453.21,375.66L452.75,375.66L451.94,375.66L450.73,375.66L449.17,375.66L447.30,375.66L445.23,375.66L443.04,375.66L440.82,375.66L438.64,375.66L436.53,375.66L434.51,375.66L432.58,375.66L430.73,375.66L428.93,375.66L427.17,375.66L425.40,375.66L423.62,375.66L421.78,375.66L419.88,375.66L417.91,375.66L415.85,375.66L413.69,375.66L411.45,375.66L409.11,375.66L406.70,375.66L404.23,375.66L401.71,375.66L399.18,375.66L396.64,375.66L394.12,375.66L391.65,375.66L389.24,375.66L386.90,375.66L384.66,375.66L382.50,375.66L380.44,375.66L378.47,375.66L376.57,375.66L374.73,375.66L372.95,375.66L371.18,375.66L369.42,375.66L367.62,375.66L365.77,375.66L363.84,375.66L361.82,375.66L359.71,375.66L357.53,375.66L355.31,375.66L353.12,375.66L351.05,375.66L349.18,375.66L347.62,375.66L346.41,375.66L345.60,375.66L345.14,375.66L344.95,375.66L344.92,375.66Z" fill="#17B3B7"/>
<path d="M182.18,153.87L182.20,153.88L182.39,153.93L182.85,154.07L183.66,154.34L184.87,154.79L186.43,155.45L188.30,156.33L190.37,157.43L192.56,158.75L194.78,160.30L196.96,162.06L199.07,164.03L201.09,166.24L203.02,168.71L204.87,171.47L206.67,174.56L208.43,178.03L210.20,181.93L211.98,186.30L213.82,191.18L215.72,196.56L217.69,202.46L219.75,208.89L221.91,215.84L224.15,223.29L226.49,231.18L228.90,239.47L231.37,248.07L233.89,256.88L236.43,265.80L238.96,274.73L241.48,283.54L243.95,292.14L246.36,300.42L248.70,308.32L250.94,315.76L253.10,322.71L255.16,329.14L257.13,335.04L259.03,340.43L260.87,345.30L262.65,349.68L264.42,353.58L266.18,357.05L267.98,360.14L269.83,362.89L271.76,365.36L273.78,367.57L275.89,369.55L278.07,371.31L280.29,372.85L282.48,374.18L284.55,375.28L286.42,376.16L287.98,376.81L289.19,377.26L290.00,377.54L290.46,377.68L290.65,377.73L290.68,377.74L290.68,390.50L290.65,390.49L290.46,390.44L290.00,390.30L289.19,390.03L287.98,389.58L286.42,388.92L284.55,388.04L282.48,386.94L280.29,385.62L278.07,384.07L275.89,382.32L273.78,380.34L271.76,378.13L269.83,375.66L267.98,372.90L266.18,369.81L264.42,366.34L262.65,362.44L260.87,358.07L259.03,353.19L257.13,347.81L255.16,341.91L253.10,335.48L250.94,328.53L248.70,321.08L246.36,313.19L243.95,304.90L241.48,296.30L238.96,287.49L236.43,278.57L233.89,269.64L231.37,260.83L228.90,252.23L226.49,243.95L224.15,236.05L221.91,228.61L219.75,221.66L217.69,215.23L215.72,209.33L213.82,203.95L211.98,199.07L210.20,194.69L208.43,190.79L206.67,187.32L204.87,184.24L203.02,181.48L201.09,179.01L199.07,176.80L196.96,174.82L194.78,173.06L192.56,171.52L190.37,170.19L188.30,169.09L186.43,168.21L184.87,167.56L183.66,167.11L182.85,166.83L182.39,166.69L182.20,166.64L182.18,166.63Z" fill="#17B3B7"/>
<path d="M344.92,377.74L344.95,377.74L345.14,377.74L345.60,377.74L346.41,377.74L347.62,377.74L349.18,377.74L351.05,377.74L353.12,377.74L355.31,377.74L357.53,377.74L359.71,377.74L361.82,377.74L363.84,377.74L365.77,377.74L367.62,377.74L369.42,377.74L371.18,377.74L372.95,377.74L374.73,377.74L376.57,377.74L378.47,377.74L380.44,377.74L382.50,377.74L384.66,377.74L386.90,377.74L389.24,377.74L391.65,377.74L394.12,377.74L396.64,377.74L399.18,377.74L401.71,377.74L404.23,377.74L406.70,377.74L409.11,377.74L411.45,377.74L413.69,377.74L415.85,377.74L417.91,377.74L419.88,377.74L421.78,377.74L423.62,377.74L425.40,377.74L427.17,377.74L428.93,377.74L430.73,377.74L432.58,377.74L434.51,377.74L436.53,377.74L438.64,377.74L440.82,377.74L443.04,377.74L445.23,377.74L447.30,377.74L449.17,377.74L450.73,377.74L451.94,377.74L452.75,377.74L453.21,377.74L453.40,377.74L453.43,377.74L453.43,390.50L453.40,390.50L453.21,390.50L452.75,390.50L451.94,390.50L450.73,390.50L449.17,390.50L447.30,390.50L445.23,390.50L443.04,390.50L440.82,390.50L438.64,390.50L436.53,390.50L434.51,390.50L432.58,390.50L430.73,390.50L428.93,390.50L427.17,390.50L425.40,390.50L423.62,390.50L421.78,390.50L419.88,390.50L417.91,390.50L415.85,390.50L413.69,390.50L411.45,390.50L409.11,390.50L406.70,390.50L404.23,390.50L401.71,390.50L399.18,390.50L396.64,390.50L394.12,390.50L391.65,390.50L389.24,390.50L386.90,390.50L384.66,390.50L382.50,390.50L380.44,390.50L378.47,390.50L376.57,390.50L374.73,390.50L372.95,390.50L371.18,390.50L369.42,390.50L367.62,390.50L365.77,390.50L363.84,390.50L361.82,390.50L359.71,390.50L357.53,390.50L355.31,390.50L353.12,390.50L351.05,390.50L349.18,390.50L347.62,390.50L346.41,390.50L345.60,390.50L345.14,390.50L344.95,390.50L344.92,390.50Z" fill="#17B3B7"/>
<path d="M182.18,267.16L182.20,267.16L182.39,267.19L182.85,267.28L183.66,267.45L184.87,267.73L186.43,268.13L188.30,268.67L190.37,269.35L192.56,270.16L194.78,271.11L196.96,272.19L199.07,273.40L201.09,274.76L203.02,276.28L204.87,277.97L206.67,279.87L208.43,282.00L210.20,284.40L211.98,287.09L213.82,290.08L215.72,293.39L217.69,297.02L219.75,300.97L221.91,305.24L224.15,309.81L226.49,314.66L228.90,319.75L231.37,325.03L233.89,330.45L236.43,335.93L238.96,341.41L241.48,346.83L243.95,352.11L246.36,357.20L248.70,362.05L250.94,366.63L253.10,370.90L255.16,374.85L257.13,378.47L259.03,381.78L260.87,384.78L262.65,387.46L264.42,389.86L266.18,391.99L267.98,393.89L269.83,395.58L271.76,397.10L273.78,398.46L275.89,399.67L278.07,400.75L280.29,401.70L282.48,402.52L284.55,403.19L286.42,403.73L287.98,404.14L289.19,404.41L290.00,404.58L290.46,404.67L290.65,404.70L290.68,404.70L290.68,416.83L290.65,416.83L290.46,416.79L290.00,416.71L289.19,416.54L287.98,416.26L286.42,415.86L284.55,415.32L282.48,414.64L280.29,413.83L278.07,412.88L275.89,411.80L273.78,410.58L271.76,409.23L269.83,407.71L267.98,406.02L266.18,404.12L264.42,401.99L262.65,399.59L260.87,396.90L259.03,393.91L257.13,390.60L255.16,386.97L253.10,383.02L250.94,378.75L248.70,374.18L246.36,369.33L243.95,364.24L241.48,358.96L238.96,353.54L236.43,348.06L233.89,342.58L231.37,337.16L228.90,331.88L226.49,326.79L224.15,321.94L221.91,317.36L219.75,313.09L217.69,309.14L215.72,305.52L213.82,302.21L211.98,299.21L210.20,296.53L208.43,294.13L206.67,292.00L204.87,290.10L203.02,288.41L201.09,286.89L199.07,285.53L196.96,284.32L194.78,283.24L192.56,282.29L190.37,281.47L188.30,280.80L186.43,280.26L184.87,279.85L183.66,279.58L182.85,279.41L182.39,279.32L182.20,279.29L182.18,279.29Z" fill="#17B3B7"/>
<path d="M344.92,404.70L344.95,404.70L345.14,404.70L345.60,404.70L346.41,404.70L347.62,404.70L349.18,404.70L351.05,404.70L353.12,404.70L355.31,404.70L357.53,404.70L359.71,404.70L361.82,404.70L363.84,404.70L365.77,404.70L367.62,404.70L369.42,404.70L371.18,404.70L372.95,404.70L374.73,404.70L376.57,404.70L378.47,404.70L380.44,404.70L382.50,404.70L384.66,404.70L386.90,404.70L389.24,404.70L391.65,404.70L394.12,404.70L396.64,404.70L399.18,404.70L401.71,404.70L404.23,404.70L406.70,404.70L409.11,404.70L411.45,404.70L413.69,404.70L415.85,404.70L417.91,404.70L419.88,404.70L421.78,404.70L423.62,404.70L425.40,404.70L427.17,404.70L428.93,404.70L430.73,404.70L432.58,404.70L434.51,404.70L436.53,404.70L438.64,404.70L440.82,404.70L443.04,404.70L445.23,404.70L447.30,404.70L449.17,404.70L450.73,404.70L451.94,404.70L452.75,404.70L453.21,404.70L453.40,404.70L453.43,404.70L453.43,416.83L453.40,416.83L453.21,416.83L452.75,416.83L451.94,416.83L450.73,416.83L449.17,416.83L447.30,416.83L445.23,416.83L443.04,416.83L440.82,416.83L438.64,416.83L436.53,416.83L434.51,416.83L432.58,416.83L430.73,416.83L428.93,416.83L427.17,416.83L425.40,416.83L423.62,416.83L421.78,416.83L419.88,416.83L417.91,416.83L415.85,416.83L413.69,416.83L411.45,416.83L409.11,416.83L406.70,416.83L404.23,416.83L401.71,416.83L399.18,416.83L396.64,416.83L394.12,416.83L391.65,416.83L389.24,416.83L386.90,416.83L384.66,416.83L382.50,416.83L380.44,416.83L378.47,416.83L376.57,416.83L374.73,416.83L372.95,416.83L371.18,416.83L369.42,416.83L367.62,416.83L365.77,416.83L363.84,416.83L361.82,416.83L359.71,416.83L357.53,416.83L355.31,416.83L353.12,416.83L351.05,416.83L349.18,416.83L347.62,416.83L346.41,416.83L345.60,416.83L345.14,416.83L344.95,416.83L344.92,416.83Z" fill="#17B3B7"/>
<path d="M182.18,417.31L182.20,417.31L182.39,417.31L182.85,417.31L183.66,417.31L184.87,417.31L186.43,417.31L188.30,417.31L190.37,417.31L192.56,417.31L194.78,417.31L196.96,417.31L199.07,417.31L201.09,417.31L203.02,417.31L204.87,417.31L206.67,417.31L208.43,417.31L210.20,417.31L211.98,417.31L213.82,417.31L215.72,417.31L217.69,417.31L219.75,417.31L221.91,417.31L224.15,417.31L226.49,417.31L228.90,417.31L231.37,417.31L233.89,417.31L236.43,417.31L238.96,417.31L241.48,417.31L243.95,417.31L246.36,417.31L248.70,417.31L250.94,417.31L253.10,417.31L255.16,417.31L257.13,417.31L259.03,417.31L260.87,417.31L262.65,417.31L264.42,417.31L266.18,417.31L267.98,417.31L269.83,417.31L271.76,417.31L273.78,417.31L275.89,417.31L278.07,417.31L280.29,417.31L282.48,417.31L284.55,417.31L286.42,417.31L287.98,417.31L289.19,417.31L290.00,417.31L290.46,417.31L290.65,417.31L290.68,417.31L290.68,420.50L290.65,420.50L290.46,420.50L290.00,420.50L289.19,420.50L287.98,420.50L286.42,420.50L284.55,420.50L282.48,420.50L280.29,420.50L278.07,420.50L275.89,420.50L273.78,420.50L271.76,420.50L269.83,420.50L267.98,420.50L266.18,420.50L264.42,420.50L262.65,420.50L260.87,420.50L259.03,420.50L257.13,420.50L255.16,420.50L253.10,420.50L250.94,420.50L248.70,420.50L246.36,420.50L243.95,420.50L241.48,420.50L238.96,420.50L236.43,420.50L233.89,420.50L231.37,420.50L228.90,420.50L226.49,420.50L224.15,420.50L221.91,420.50L219.75,420.50L217.69,420.50L215.72,420.50L213.82,420.50L211.98,420.50L210.20,420.50L208.43,420.50L206.67,420.50L204.87,420.50L203.02,420.50L201.09,420.50L199.07,420.50L196.96,420.50L194.78,420.50L192.56,420.50L190.37,420.50L188.30,420.50L186.43,420.50L184.87,420.50L183.66,420.50L182.85,420.50L182.39,420.50L182.20,420.50L182.18,420.50Z" fill="#17B3B7"/>
<path d="M344.92,417.31L344.95,417.31L345.14,417.31L345.60,417.31L346.41,417.31L347.62,417.31L349.18,417.31L351.05,417.31L353.12,417.31L355.31,417.31L357.53,417.31L359.71,417.31L361.82,417.31L363.84,417.31L365.77,417.31L367.62,417.31L369.42,417.31L371.18,417.31L372.95,417.31L374.73,417.31L376.57,417.31L378.47,417.31L380.44,417.31L382.50,417.31L384.66,417.31L386.90,417.31L389.24,417.31L391.65,417.31L394.12,417.31L396.64,417.31L399.18,417.31L401.71,417.31L404.23,417.31L406.70,417.31L409.11,417.31L411.45,417.31L413.69,417.31L415.85,417.31L417.91,417.31L419.88,417.31L421.78,417.31L423.62,417.31L425.40,417.31L427.17,417.31L428.93,417.31L430.73,417.31L432.58,417.31L434.51,417.31L436.53,417.31L438.64,417.31L440.82,417.31L443.04,417.31L445.23,417.31L447.30,417.31L449.17,417.31L450.73,417.31L451.94,417.31L452.75,417.31L453.21,417.31L453.40,417.31L453.43,417.31L453.43,420.50L453.40,420.50L453.21,420.50L452.75,420.50L451.94,420.50L450.73,420.50L449.17,420.50L447.30,420.50L445.23,420.50L443.04,420.50L440.82,420.50L438.64,420.50L436.53,420.50L434.51,420.50L432.58,420.50L430.73,420.50L428.93,420.50L427.17,420.50L425.40,420.50L423.62,420.50L421.78,420.50L419.88,420.50L417.91,420.50L415.85,420.50L413.69,420.50L411.45,420.50L409.11,420.50L406.70,420.50L404.23,420.50L401.71,420.50L399.18,420.50L396.64,420.50L394.12,420.50L391.65,420.50L389.24,420.50L386.90,420.50L384.66,420.50L382.50,420.50L380.44,420.50L378.47,420.50L376.57,420.50L374.73,420.50L372.95,420.50L371.18,420.50L369.42,420.50L367.62,420.50L365.77,420.50L363.84,420.50L361.82,420.50L359.71,420.50L357.53,420.50L355.31,420.50L353.12,420.50L351.05,420.50L349.18,420.50L347.62,420.50L346.41,420.50L345.60,420.50L345.14,420.50L344.95,420.50L344.92,420.50Z" fill="#17B3B7"/>
</g>
<rect x="127.93" y="69.30" width="54.25" height="51.86" fill="#fff" stroke="#000" stroke-width="1.42"/>
<rect x="127.93" y="121.16" width="54.25" height="45.48" fill="#fff" stroke="#000" stroke-width="1.42"/>
<rect x="127.93" y="166.63" width="54.25" height="112.65" fill="#fff" stroke="#000" stroke-width="1.42"/>
<rect x="127.93" y="279.29" width="54.25" height="141.21" fill="#fff" stroke="#000" stroke-width="1.42"/>
<rect x="290.68" y="69.30" width="54.25" height="276.21" fill="#fff" stroke="#000" stroke-width="1.42"/>
<rect x="290.68" y="345.50" width="54.25" height="75.00" fill="#fff" stroke="#000" stroke-width="1.42"/>
<rect x="453.43" y="69.30" width="54.25" height="17.39" fill="#fff" stroke="#000" stroke-width="1.42"/>
<rect x="453.43" y="86.69" width="54.25" height="333.81" fill="#fff" stroke="#000" stroke-width="1.42"/>
<text x="155.05" y="101.43" font-size="14.67" text-anchor="middle" fill="#000">1st</text>
<text x="155.05" y="150.10" font-size="14.67" text-anchor="middle" fill="#000">2nd</text>
<text x="155.05" y="229.16" font-size="14.67" text-anchor="middle" fill="#000">3rd</text>
<text x="155.05" y="356.09" font-size="14.67" text-anchor="middle" fill="#000">Crew</text>
<text x="317.80" y="212.70" font-size="14.67" text-anchor="middle" fill="#000">Male</text>
<text x="317.80" y="389.20" font-size="14.67" text-anchor="middle" fill="#000">Female</text>
<text x="480.55" y="84.20" font-size="14.67" text-anchor="middle" fill="#000">Child</text>
<text x="480.55" y="258.90" font-size="14.67" text-anchor="middle" fill="#000">Adult</text>
<text x="50.60" y="425.20" font-size="11.73" text-anchor="end" fill="#4D4D4D">0</text>
<text x="50.60" y="345.42" font-size="11.73" text-anchor="end" fill="#4D4D4D">500</text>
<text x="50.60" y="265.64" font-size="11.73" text-anchor="end" fill="#4D4D4D">1000</text>
<text x="50.60" y="185.85" font-size="11.73" text-anchor="end" fill="#4D4D4D">1500</text>
<text x="50.60" y="106.07" font-size="11.73" text-anchor="end" fill="#4D4D4D">2000</text>
<text x="155.05" y="452.80" font-size="11.73" text-anchor="middle" fill="#4D4D4D">Class</text>
<text x="317.80" y="452.80" font-size="11.73" text-anchor="middle" fill="#4D4D4D">Sex</text>
<text x="480.55" y="452.80" font-size="11.73" text-anchor="middle" fill="#4D4D4D">Age</text>
<text x="317.60" y="470.00" font-size="14.67" text-anchor="middle" fill="#000">Demographic</text>
<text transform="translate(17.00,245.40) rotate(-90)" font-size="14.67" text-anchor="middle" fill="#000">Freq</text>
<text x="57.3" y="19.2" font-size="17.66" fill="#000">passengers on the maiden voyage of the Titanic</text>
<text x="57.3" y="42.0" font-size="14.67" fill="#000">stratified by demographics and survival</text>
<text x="600.3" y="223.5" font-size="14.67" fill="#000">Survived</text>
<rect x="600.85" y="232.85" width="21.15" height="21.05" fill="#F35953" fill-opacity="0.5"/>
<rect x="600.85" y="255.9" width="21.15" height="21.05" fill="#17B3B7" fill-opacity="0.5"/>
<text x="630.2" y="248.8" font-size="11.73" fill="#000">No</text>
<text x="630.2" y="271.8" font-size="11.73" fill="#000">Yes</text>
</svg>
</body></html>
